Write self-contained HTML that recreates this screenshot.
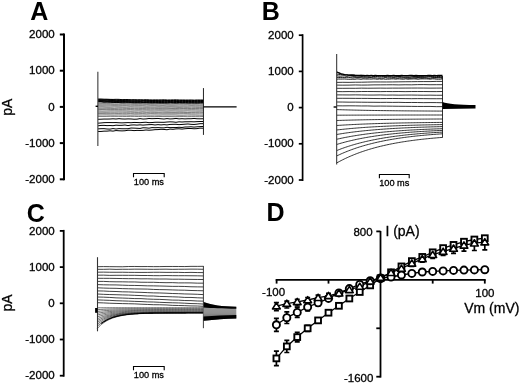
<!DOCTYPE html>
<html><head><meta charset="utf-8"><style>
html,body{margin:0;padding:0;background:#fff;}
body{width:520px;height:383px;overflow:hidden;font-family:"Liberation Sans",sans-serif;}
svg{display:block;will-change:transform;}
</style></head><body>
<svg width="520" height="383" viewBox="0 0 520 383">
<text x="30.2" y="19.8" font-size="25" font-weight="bold" font-family="Liberation Sans, sans-serif">A</text>
<line x1="64" y1="33.5" x2="64" y2="180.3" stroke="#000" stroke-width="2"/>
<line x1="59.8" y1="34.5" x2="64" y2="34.5" stroke="#000" stroke-width="2"/>
<text x="54.7" y="38.1" font-size="11.5" text-anchor="end" font-family="Liberation Sans, sans-serif" stroke="#000" stroke-width="0.3">2000</text>
<line x1="59.8" y1="70.7" x2="64" y2="70.7" stroke="#000" stroke-width="2"/>
<text x="54.7" y="74.3" font-size="11.5" text-anchor="end" font-family="Liberation Sans, sans-serif" stroke="#000" stroke-width="0.3">1000</text>
<line x1="59.8" y1="106.9" x2="64" y2="106.9" stroke="#000" stroke-width="2"/>
<text x="54.7" y="110.5" font-size="11.5" text-anchor="end" font-family="Liberation Sans, sans-serif" stroke="#000" stroke-width="0.3">0</text>
<line x1="59.8" y1="143.1" x2="64" y2="143.1" stroke="#000" stroke-width="2"/>
<text x="54.7" y="146.7" font-size="11.5" text-anchor="end" font-family="Liberation Sans, sans-serif" stroke="#000" stroke-width="0.3">-1000</text>
<line x1="59.8" y1="179.3" x2="64" y2="179.3" stroke="#000" stroke-width="2"/>
<text x="54.7" y="182.9" font-size="11.5" text-anchor="end" font-family="Liberation Sans, sans-serif" stroke="#000" stroke-width="0.3">-2000</text>
<text x="0" y="0" font-size="14" text-anchor="middle" transform="translate(12.2,107.3) rotate(-90)" font-family="Liberation Sans, sans-serif" stroke="#000" stroke-width="0.3">pA</text>
<path d="M98,99 L101.01,99.02 L104.03,99.19 L107.04,99.22 L110.06,99.36 L113.07,99.43 L116.09,99.32 L119.1,99.36 L122.11,99.65 L125.13,99.52 L128.14,99.56 L131.16,99.82 L134.17,99.7 L137.19,99.84 L140.2,99.76 L143.21,99.83 L146.23,99.71 L149.24,99.87 L152.26,99.96 L155.27,99.87 L158.29,99.96 L161.3,99.95 L164.31,99.78 L167.33,100 L170.34,99.96 L173.36,99.88 L176.37,99.81 L179.39,100.07 L182.4,99.96 L185.41,100.04 L188.43,100.09 L191.44,100.05 L194.46,100.11 L197.47,99.96 L200.49,100.09 L203.5,99.98" fill="none" stroke="#000" stroke-width="1.0" stroke-opacity="1" stroke-linejoin="round"/>
<path d="M98,99.5 L101.01,99.72 L104.03,99.79 L107.04,99.64 L110.06,99.72 L113.07,99.81 L116.09,100.09 L119.1,99.99 L122.11,100.09 L125.13,100.04 L128.14,100.14 L131.16,100.14 L134.17,100.16 L137.19,100.26 L140.2,100.29 L143.21,100.41 L146.23,100.37 L149.24,100.46 L152.26,100.46 L155.27,100.51 L158.29,100.43 L161.3,100.3 L164.31,100.52 L167.33,100.56 L170.34,100.55 L173.36,100.46 L176.37,100.51 L179.39,100.37 L182.4,100.56 L185.41,100.49 L188.43,100.41 L191.44,100.35 L194.46,100.59 L197.47,100.64 L200.49,100.37 L203.5,100.59" fill="none" stroke="#000" stroke-width="1.0" stroke-opacity="1" stroke-linejoin="round"/>
<path d="M98,100 L101.01,100.07 L104.03,100.08 L107.04,100.2 L110.06,100.41 L113.07,100.5 L116.09,100.31 L119.1,100.54 L122.11,100.42 L125.13,100.66 L128.14,100.59 L131.16,100.79 L134.17,100.85 L137.19,100.74 L140.2,100.91 L143.21,100.73 L146.23,100.68 L149.24,100.86 L152.26,100.71 L155.27,100.78 L158.29,100.86 L161.3,100.93 L164.31,100.81 L167.33,100.78 L170.34,101.04 L173.36,100.89 L176.37,101.09 L179.39,101.08 L182.4,100.93 L185.41,100.96 L188.43,100.98 L191.44,101.03 L194.46,101.02 L197.47,101.01 L200.49,101.03 L203.5,101.13" fill="none" stroke="#000" stroke-width="1.0" stroke-opacity="1" stroke-linejoin="round"/>
<path d="M98,100.5 L101.01,100.61 L104.03,100.68 L107.04,100.85 L110.06,100.78 L113.07,100.87 L116.09,101.14 L119.1,101.06 L122.11,101.12 L125.13,101.01 L128.14,101.18 L131.16,101.26 L134.17,101.13 L137.19,101.34 L140.2,101.38 L143.21,101.24 L146.23,101.43 L149.24,101.4 L152.26,101.49 L155.27,101.41 L158.29,101.53 L161.3,101.56 L164.31,101.36 L167.33,101.38 L170.34,101.58 L173.36,101.67 L176.37,101.47 L179.39,101.54 L182.4,101.59 L185.41,101.51 L188.43,101.53 L191.44,101.52 L194.46,101.55 L197.47,101.62 L200.49,101.54 L203.5,101.56" fill="none" stroke="#000" stroke-width="1.0" stroke-opacity="1" stroke-linejoin="round"/>
<path d="M98,101 L101.01,101.19 L104.03,101.06 L107.04,101.3 L110.06,101.43 L113.07,101.38 L116.09,101.41 L119.1,101.65 L122.11,101.53 L125.13,101.56 L128.14,101.68 L131.16,101.8 L134.17,101.66 L137.19,101.76 L140.2,101.79 L143.21,101.97 L146.23,101.87 L149.24,102.02 L152.26,101.84 L155.27,101.9 L158.29,102.02 L161.3,102.1 L164.31,101.99 L167.33,101.93 L170.34,101.91 L173.36,102.04 L176.37,101.95 L179.39,102.15 L182.4,102.16 L185.41,101.97 L188.43,102.01 L191.44,102.17 L194.46,102.13 L197.47,102.18 L200.49,102.05 L203.5,101.99" fill="none" stroke="#000" stroke-width="1.0" stroke-opacity="1" stroke-linejoin="round"/>
<path d="M98,101.5 L101.01,101.54 L104.03,101.79 L107.04,101.71 L110.06,101.82 L113.07,101.91 L116.09,101.97 L119.1,102.03 L122.11,102.23 L125.13,102.05 L128.14,102.05 L131.16,102.37 L134.17,102.39 L137.19,102.46 L140.2,102.32 L143.21,102.5 L146.23,102.52 L149.24,102.33 L152.26,102.51 L155.27,102.55 L158.29,102.52 L161.3,102.49 L164.31,102.44 L167.33,102.47 L170.34,102.44 L173.36,102.41 L176.37,102.57 L179.39,102.49 L182.4,102.65 L185.41,102.43 L188.43,102.7 L191.44,102.64 L194.46,102.71 L197.47,102.71 L200.49,102.72 L203.5,102.62" fill="none" stroke="#000" stroke-width="1.0" stroke-opacity="1" stroke-linejoin="round"/>
<path d="M98,102 L101.01,101.96 L104.03,102.27 L107.04,102.19 L110.06,102.3 L113.07,102.48 L116.09,102.5 L119.1,102.53 L122.11,102.74 L125.13,102.69 L128.14,102.65 L131.16,102.67 L134.17,102.89 L137.19,102.8 L140.2,102.92 L143.21,102.82 L146.23,102.8 L149.24,102.93 L152.26,103.03 L155.27,102.86 L158.29,103.06 L161.3,103.11 L164.31,103.09 L167.33,103.11 L170.34,102.88 L173.36,103.07 L176.37,103.15 L179.39,102.92 L182.4,102.99 L185.41,103 L188.43,103.08 L191.44,103.06 L194.46,103.08 L197.47,103.17 L200.49,102.95 L203.5,102.97" fill="none" stroke="#000" stroke-width="1.0" stroke-opacity="1" stroke-linejoin="round"/>
<path d="M98,103.7 L102.06,103.62 L106.12,103.63 L110.17,103.62 L114.23,103.84 L118.29,103.82 L122.35,103.65 L126.4,103.75 L130.46,103.72 L134.52,103.72 L138.58,103.74 L142.63,103.82 L146.69,103.81 L150.75,103.77 L154.81,103.73 L158.87,103.77 L162.92,103.73 L166.98,103.84 L171.04,103.89 L175.1,103.82 L179.15,103.75 L183.21,103.78 L187.27,103.84 L191.33,103.9 L195.38,103.95 L199.44,103.86 L203.5,103.97" fill="none" stroke="#222" stroke-width="0.6" stroke-opacity="1" stroke-linejoin="round"/>
<path d="M98,104.8 L102.06,104.84 L106.12,104.8 L110.17,104.79 L114.23,104.83 L118.29,104.89 L122.35,104.83 L126.4,104.9 L130.46,104.85 L134.52,104.81 L138.58,104.89 L142.63,104.93 L146.69,104.79 L150.75,104.88 L154.81,104.89 L158.87,105.01 L162.92,105.03 L166.98,104.9 L171.04,105.03 L175.1,105.02 L179.15,104.9 L183.21,104.95 L187.27,104.88 L191.33,105.05 L195.38,105.02 L199.44,105.09 L203.5,105.07" fill="none" stroke="#222" stroke-width="0.6" stroke-opacity="1" stroke-linejoin="round"/>
<path d="M98,105.9 L102.06,105.95 L106.12,105.97 L110.17,105.94 L114.23,105.84 L118.29,105.96 L122.35,105.83 L126.4,105.87 L130.46,106.03 L134.52,105.86 L138.58,105.88 L142.63,105.89 L146.69,106.08 L150.75,105.92 L154.81,105.89 L158.87,106.1 L162.92,105.93 L166.98,106.11 L171.04,106.08 L175.1,106.13 L179.15,106.16 L183.21,106.08 L187.27,106.14 L191.33,105.97 L195.38,106.15 L199.44,106.1 L203.5,106.15" fill="none" stroke="#222" stroke-width="0.6" stroke-opacity="1" stroke-linejoin="round"/>
<path d="M98,107.1 L102.06,107.01 L106.12,107.18 L110.17,107.23 L114.23,107.03 L118.29,107.1 L122.35,107.16 L126.4,107.23 L130.46,107.1 L134.52,107.09 L138.58,107.12 L142.63,107.21 L146.69,107.25 L150.75,107.17 L154.81,107.18 L158.87,107.19 L162.92,107.19 L166.98,107.21 L171.04,107.14 L175.1,107.25 L179.15,107.37 L183.21,107.24 L187.27,107.33 L191.33,107.2 L195.38,107.33 L199.44,107.35 L203.5,107.34" fill="none" stroke="#222" stroke-width="0.6" stroke-opacity="1" stroke-linejoin="round"/>
<path d="M98,108.3 L102.06,108.31 L106.12,108.31 L110.17,108.36 L114.23,108.43 L118.29,108.25 L122.35,108.25 L126.4,108.41 L130.46,108.46 L134.52,108.37 L138.58,108.36 L142.63,108.44 L146.69,108.32 L150.75,108.34 L154.81,108.34 L158.87,108.44 L162.92,108.38 L166.98,108.37 L171.04,108.48 L175.1,108.55 L179.15,108.4 L183.21,108.51 L187.27,108.45 L191.33,108.56 L195.38,108.5 L199.44,108.44 L203.5,108.43" fill="none" stroke="#222" stroke-width="0.6" stroke-opacity="1" stroke-linejoin="round"/>
<path d="M98,109.6 L102.06,109.49 L106.12,109.61 L110.17,109.59 L114.23,109.55 L118.29,109.6 L122.35,109.6 L126.4,109.72 L130.46,109.58 L134.52,109.79 L138.58,109.67 L142.63,109.71 L146.69,109.68 L150.75,109.78 L154.81,109.78 L158.87,109.73 L162.92,109.72 L166.98,109.78 L171.04,109.82 L175.1,109.72 L179.15,109.81 L183.21,109.87 L187.27,109.76 L191.33,109.71 L195.38,109.72 L199.44,109.84 L203.5,109.84" fill="none" stroke="#222" stroke-width="0.6" stroke-opacity="1" stroke-linejoin="round"/>
<path d="M98,110.9 L102.06,111.02 L106.12,111 L110.17,110.86 L114.23,110.86 L118.29,110.88 L122.35,110.87 L126.4,111 L130.46,111.05 L134.52,111.07 L138.58,110.92 L142.63,111.07 L146.69,110.95 L150.75,110.98 L154.81,111.06 L158.87,110.92 L162.92,110.93 L166.98,111.11 L171.04,110.99 L175.1,111.01 L179.15,111.07 L183.21,111.1 L187.27,110.95 L191.33,111.04 L195.38,111.07 L199.44,111.09 L203.5,111.03" fill="none" stroke="#222" stroke-width="0.6" stroke-opacity="1" stroke-linejoin="round"/>
<path d="M98,112.2 L102.06,112.23 L106.12,112.32 L110.17,112.2 L114.23,112.24 L118.29,112.15 L122.35,112.19 L126.4,112.29 L130.46,112.17 L134.52,112.36 L138.58,112.38 L142.63,112.19 L146.69,112.4 L150.75,112.27 L154.81,112.37 L158.87,112.38 L162.92,112.27 L166.98,112.37 L171.04,112.38 L175.1,112.42 L179.15,112.3 L183.21,112.42 L187.27,112.48 L191.33,112.42 L195.38,112.39 L199.44,112.3 L203.5,112.4" fill="none" stroke="#222" stroke-width="0.6" stroke-opacity="1" stroke-linejoin="round"/>
<path d="M98,113.6 L102.06,113.57 L106.12,113.67 L110.17,113.67 L114.23,113.65 L118.29,113.56 L122.35,113.68 L126.4,113.69 L130.46,113.58 L134.52,113.76 L138.58,113.71 L142.63,113.59 L146.69,113.8 L150.75,113.61 L154.81,113.67 L158.87,113.77 L162.92,113.75 L166.98,113.74 L171.04,113.77 L175.1,113.74 L179.15,113.71 L183.21,113.68 L187.27,113.67 L191.33,113.83 L195.38,113.85 L199.44,113.8 L203.5,113.86" fill="none" stroke="#222" stroke-width="0.6" stroke-opacity="1" stroke-linejoin="round"/>
<path d="M98,115 L102.06,114.97 L106.12,114.96 L110.17,115 L114.23,115.12 L118.29,114.93 L122.35,115.05 L126.4,114.99 L130.46,115.13 L134.52,115.03 L138.58,115.04 L142.63,115.06 L146.69,115.1 L150.75,115.17 L154.81,115.07 L158.87,115.2 L162.92,115.03 L166.98,115.08 L171.04,115.04 L175.1,115.05 L179.15,115.22 L183.21,115.22 L187.27,115.09 L191.33,115.1 L195.38,115.16 L199.44,115.25 L203.5,115.28" fill="none" stroke="#222" stroke-width="0.6" stroke-opacity="1" stroke-linejoin="round"/>
<path d="M98,116.4 L102.06,116.47 L106.12,116.44 L110.17,116.34 L114.23,116.41 L118.29,116.36 L122.35,116.45 L126.4,116.47 L130.46,116.39 L134.52,116.41 L138.58,116.54 L142.63,116.37 L146.69,116.57 L150.75,116.59 L154.81,116.62 L158.87,116.49 L162.92,116.54 L166.98,116.55 L171.04,116.57 L175.1,116.66 L179.15,116.6 L183.21,116.51 L187.27,116.66 L191.33,116.57 L195.38,116.61 L199.44,116.65 L203.5,116.48" fill="none" stroke="#222" stroke-width="0.6" stroke-opacity="1" stroke-linejoin="round"/>
<path d="M98,119.29 L101,119.2 L104,119.06 L107,119.07 L110,119 L113,118.8 L116,119.02 L119,118.66 L122,118.96 L125,119.05 L128,118.89 L131,118.96 L134,119.22 L137,119.15 L140,118.6 L143,119.05 L146,118.91 L149,118.49 L152,118.69 L155,118.59 L158,118.46 L161,118.77 L164,119.02 L167,118.58 L170,118.95 L173,118.81 L176,118.4 L179,118.89 L182,118.69 L185,118.9 L188,118.74 L191,118.74 L194,118.44 L197,118.75 L200,118.82 L203,118.75 L203.5,118.46" fill="none" stroke="#000" stroke-width="1.0" stroke-opacity="1" stroke-linejoin="round"/>
<path d="M98,123.18 L101,122.96 L104,122.66 L107,122.58 L110,122.57 L113,122.62 L116,122.56 L119,122.76 L122,122.87 L125,122.72 L128,122.6 L131,122.73 L134,122.45 L137,122.53 L140,122.7 L143,122.42 L146,122.23 L149,122.7 L152,122.54 L155,122.26 L158,122.22 L161,122.3 L164,122.31 L167,122.02 L170,121.83 L173,121.94 L176,122.31 L179,121.82 L182,122.01 L185,121.79 L188,121.77 L191,121.71 L194,121.84 L197,121.64 L200,121.5 L203,121.53 L203.5,121.6" fill="none" stroke="#000" stroke-width="1.0" stroke-opacity="1" stroke-linejoin="round"/>
<path d="M98,125.79 L101,125.44 L104,125.36 L107,125.61 L110,125.53 L113,125.69 L116,125.18 L119,125.37 L122,125.32 L125,125.01 L128,125.61 L131,125.04 L134,124.9 L137,125.11 L140,124.85 L143,125.11 L146,124.87 L149,124.66 L152,124.56 L155,124.98 L158,124.61 L161,124.92 L164,124.64 L167,124.92 L170,124.43 L173,124.34 L176,124.3 L179,124.63 L182,124.45 L185,124.2 L188,123.97 L191,124.33 L194,124.48 L197,124.17 L200,123.7 L203,123.67 L203.5,123.75" fill="none" stroke="#000" stroke-width="1.0" stroke-opacity="1" stroke-linejoin="round"/>
<path d="M98,128.87 L101,128.71 L104,128.65 L107,129 L110,129.11 L113,128.55 L116,129.02 L119,128.6 L122,128.76 L125,128.78 L128,128.72 L131,128.02 L134,128.14 L137,128.28 L140,128.45 L143,127.78 L146,127.86 L149,128.18 L152,127.6 L155,127.72 L158,127.61 L161,127.79 L164,127.89 L167,127.3 L170,127.62 L173,127.55 L176,127.55 L179,127.29 L182,127.48 L185,127.02 L188,126.98 L191,126.78 L194,127.1 L197,126.82 L200,126.61 L203,126.47 L203.5,126.83" fill="none" stroke="#000" stroke-width="1.0" stroke-opacity="1" stroke-linejoin="round"/>
<path d="M98,131.47 L101,131.46 L104,131.15 L107,131.13 L110,130.81 L113,131.12 L116,130.55 L119,130.78 L122,130.9 L125,130.75 L128,130.26 L131,130.27 L134,130.61 L137,130.39 L140,130.46 L143,130.37 L146,129.99 L149,130.22 L152,130.02 L155,129.66 L158,129.59 L161,129.3 L164,129.44 L167,129.75 L170,129.07 L173,129.31 L176,128.9 L179,128.79 L182,129.1 L185,128.73 L188,128.51 L191,128.5 L194,128.76 L197,128.63 L200,128.14 L203,128.21 L203.5,128.68" fill="none" stroke="#000" stroke-width="1.0" stroke-opacity="1" stroke-linejoin="round"/>
<line x1="97.85" y1="71.8" x2="97.85" y2="146" stroke="#444" stroke-width="1.15"/>
<line x1="203.45" y1="88.1" x2="203.45" y2="134.9" stroke="#222" stroke-width="1"/>
<line x1="203.5" y1="106.85" x2="236.6" y2="106.85" stroke="#000" stroke-width="1.35"/>
<rect x="95.6" y="105.6" width="2.4" height="1.4" fill="#000"/>
<path d="M133.5,177.3 V173.5 H164.2 V177.3" fill="none" stroke="#000" stroke-width="1.1"/>
<text x="148.85" y="184.7" font-size="9.2" text-anchor="middle" font-family="Liberation Sans, sans-serif" stroke="#000" stroke-width="0.3">100 ms</text>
<text x="261.8" y="19.7" font-size="25" font-weight="bold" font-family="Liberation Sans, sans-serif">B</text>
<line x1="302.6" y1="34.2" x2="302.6" y2="181" stroke="#000" stroke-width="1.7"/>
<line x1="298.8" y1="35.2" x2="302.6" y2="35.2" stroke="#000" stroke-width="1.7"/>
<text x="293.7" y="38.8" font-size="11.5" text-anchor="end" font-family="Liberation Sans, sans-serif" stroke="#000" stroke-width="0.3">2000</text>
<line x1="298.8" y1="71.4" x2="302.6" y2="71.4" stroke="#000" stroke-width="1.7"/>
<text x="293.7" y="75" font-size="11.5" text-anchor="end" font-family="Liberation Sans, sans-serif" stroke="#000" stroke-width="0.3">1000</text>
<line x1="298.8" y1="107.6" x2="302.6" y2="107.6" stroke="#000" stroke-width="1.7"/>
<text x="293.7" y="111.2" font-size="11.5" text-anchor="end" font-family="Liberation Sans, sans-serif" stroke="#000" stroke-width="0.3">0</text>
<line x1="298.8" y1="143.8" x2="302.6" y2="143.8" stroke="#000" stroke-width="1.7"/>
<text x="293.7" y="147.4" font-size="11.5" text-anchor="end" font-family="Liberation Sans, sans-serif" stroke="#000" stroke-width="0.3">-1000</text>
<line x1="298.8" y1="180" x2="302.6" y2="180" stroke="#000" stroke-width="1.7"/>
<text x="293.7" y="183.6" font-size="11.5" text-anchor="end" font-family="Liberation Sans, sans-serif" stroke="#000" stroke-width="0.3">-2000</text>
<path d="M336.6,71.8 L338.64,72.77 L340.67,73.61 L342.71,74.13 L344.75,74.61 L346.78,74.86 L348.82,75.11 L350.86,75.21 L352.89,75.23 L354.93,75.31 L356.97,75.34 L359,75.57 L361.04,75.43 L363.08,75.43 L365.11,75.67 L367.15,75.5 L369.18,75.67 L371.22,75.48 L373.26,75.58 L375.29,75.52 L377.33,75.67 L379.37,75.62 L381.4,75.63 L383.44,75.66 L385.48,75.69 L387.51,75.56 L389.55,75.62 L391.59,75.59 L393.62,75.51 L395.66,75.68 L397.7,75.62 L399.73,75.68 L401.77,75.53 L403.81,75.61 L405.84,75.59 L407.88,75.65 L409.92,75.5 L411.95,75.56 L413.99,75.6 L416.02,75.5 L418.06,75.61 L420.1,75.66 L422.13,75.58 L424.17,75.64 L426.21,75.63 L428.24,75.53 L430.28,75.56 L432.32,75.72 L434.35,75.56 L436.39,75.58 L438.43,75.5 L440.46,75.53 L442.5,75.52" fill="none" stroke="#000" stroke-width="1.4" stroke-opacity="1" stroke-linejoin="round"/>
<path d="M336.6,74 L338.64,74.46 L340.67,74.46 L342.71,74.7 L344.75,74.9 L346.78,74.76 L348.82,75.1 L350.86,74.92 L352.89,74.94 L354.93,75.4 L356.97,75.46 L359,75.57 L361.04,75.32 L363.08,75.6 L365.11,75.41 L367.15,75.89 L369.18,75.89 L371.22,75.51 L373.26,76.01 L375.29,75.53 L377.33,75.52 L379.37,76 L381.4,75.74 L383.44,75.93 L385.48,76.05 L387.51,75.67 L389.55,76.19 L391.59,75.89 L393.62,76.03 L395.66,75.99 L397.7,76.29 L399.73,76.32 L401.77,76.02 L403.81,75.91 L405.84,76.07 L407.88,76.16 L409.92,75.95 L411.95,76.01 L413.99,76.45 L416.02,76.42 L418.06,76.63 L420.1,76.64 L422.13,76.58 L424.17,76.24 L426.21,76.1 L428.24,76.22 L430.28,76.33 L432.32,76.38 L434.35,76.4 L436.39,76.28 L438.43,76.63 L440.46,76.24 L442.5,76.37" fill="none" stroke="#000" stroke-width="0.9" stroke-opacity="1" stroke-linejoin="round"/>
<path d="M336.6,75.7 L338.64,76.07 L340.67,76.1 L342.71,75.83 L344.75,75.87 L346.78,76.34 L348.82,75.85 L350.86,76 L352.89,76.35 L354.93,76.41 L356.97,76.2 L359,76.17 L361.04,76.33 L363.08,76.77 L365.11,76.6 L367.15,77 L369.18,76.9 L371.22,77.07 L373.26,76.44 L375.29,76.57 L377.33,76.48 L379.37,76.8 L381.4,76.76 L383.44,76.59 L385.48,76.95 L387.51,76.66 L389.55,76.83 L391.59,76.8 L393.62,77.21 L395.66,76.96 L397.7,76.86 L399.73,76.72 L401.77,77.01 L403.81,77.16 L405.84,77.2 L407.88,77.38 L409.92,77.32 L411.95,76.93 L413.99,76.86 L416.02,77.31 L418.06,77.34 L420.1,77.15 L422.13,77.38 L424.17,77.19 L426.21,77.01 L428.24,76.94 L430.28,76.84 L432.32,77.28 L434.35,77.46 L436.39,77.47 L438.43,77.17 L440.46,77.31 L442.5,77.5" fill="none" stroke="#000" stroke-width="0.9" stroke-opacity="1" stroke-linejoin="round"/>
<path d="M336.6,77.3 L338.64,77.53 L340.67,77.45 L342.71,77.38 L344.75,77.48 L346.78,77.3 L348.82,77.34 L350.86,77.67 L352.89,77.89 L354.93,77.65 L356.97,77.59 L359,77.58 L361.04,77.66 L363.08,77.89 L365.11,77.7 L367.15,78.02 L369.18,77.56 L371.22,77.67 L373.26,77.81 L375.29,77.76 L377.33,78.04 L379.37,78.03 L381.4,78.11 L383.44,77.93 L385.48,77.59 L387.51,77.92 L389.55,77.92 L391.59,77.89 L393.62,77.77 L395.66,78.04 L397.7,78.17 L399.73,77.69 L401.77,78.03 L403.81,77.86 L405.84,77.95 L407.88,78.19 L409.92,78.23 L411.95,78.04 L413.99,77.78 L416.02,78.22 L418.06,77.78 L420.1,77.9 L422.13,78.17 L424.17,77.87 L426.21,77.85 L428.24,78.26 L430.28,78.25 L432.32,77.88 L434.35,77.93 L436.39,77.86 L438.43,77.78 L440.46,77.85 L442.5,78.29" fill="none" stroke="#000" stroke-width="0.9" stroke-opacity="1" stroke-linejoin="round"/>
<path d="M336.6,79.2 L338.64,79.02 L340.67,79.07 L342.71,79.04 L344.75,78.98 L346.78,79.15 L348.82,79.23 L350.86,79.26 L352.89,79.17 L354.93,79.24 L356.97,78.9 L359,79.01 L361.04,79.27 L363.08,78.91 L365.11,78.98 L367.15,79.07 L369.18,78.97 L371.22,79.08 L373.26,78.88 L375.29,78.95 L377.33,79.23 L379.37,78.9 L381.4,79.21 L383.44,78.91 L385.48,79.23 L387.51,79.1 L389.55,79.09 L391.59,78.89 L393.62,78.85 L395.66,79.13 L397.7,78.89 L399.73,78.9 L401.77,79.15 L403.81,79.17 L405.84,78.84 L407.88,79.2 L409.92,79.03 L411.95,78.96 L413.99,78.85 L416.02,78.97 L418.06,79.2 L420.1,78.92 L422.13,78.86 L424.17,78.86 L426.21,78.86 L428.24,78.95 L430.28,79.17 L432.32,78.83 L434.35,78.88 L436.39,79.18 L438.43,79.2 L440.46,79.19 L442.5,78.9" fill="none" stroke="#000" stroke-width="0.9" stroke-opacity="1" stroke-linejoin="round"/>
<path d="M336.6,82.4 L342.83,82.31 L349.06,82.37 L355.29,82.22 L361.52,82.21 L367.75,82.07 L373.98,81.95 L380.21,81.96 L386.44,81.98 L392.66,81.93 L398.89,81.83 L405.12,81.75 L411.35,81.7 L417.58,81.62 L423.81,81.58 L430.04,81.58 L436.27,81.4 L442.5,81.42" fill="none" stroke="#000" stroke-width="0.8" stroke-opacity="1" stroke-linejoin="round"/>
<path d="M336.6,85.1 L342.83,85.16 L349.06,85.11 L355.29,84.95 L361.52,85.08 L367.75,85.02 L373.98,84.86 L380.21,84.85 L386.44,84.81 L392.66,84.75 L398.89,84.9 L405.12,84.76 L411.35,84.82 L417.58,84.64 L423.81,84.59 L430.04,84.73 L436.27,84.69 L442.5,84.7" fill="none" stroke="#000" stroke-width="0.8" stroke-opacity="1" stroke-linejoin="round"/>
<path d="M336.6,88.3 L342.83,88.32 L349.06,88.27 L355.29,88.3 L361.52,88.15 L367.75,88.22 L373.98,88.18 L380.21,88.11 L386.44,88.18 L392.66,88.11 L398.89,88.12 L405.12,88.08 L411.35,88.05 L417.58,88.04 L423.81,88.07 L430.04,88.13 L436.27,88.1 L442.5,88.07" fill="none" stroke="#000" stroke-width="0.8" stroke-opacity="1" stroke-linejoin="round"/>
<path d="M336.6,91.6 L342.83,91.66 L349.06,91.55 L355.29,91.68 L361.52,91.53 L367.75,91.5 L373.98,91.56 L380.21,91.61 L386.44,91.52 L392.66,91.58 L398.89,91.5 L405.12,91.63 L411.35,91.52 L417.58,91.52 L423.81,91.52 L430.04,91.59 L436.27,91.6 L442.5,91.51" fill="none" stroke="#000" stroke-width="0.8" stroke-opacity="1" stroke-linejoin="round"/>
<path d="M336.6,94.9 L342.83,94.91 L349.06,94.96 L355.29,94.87 L361.52,94.96 L367.75,95.06 L373.98,95.06 L380.21,94.94 L386.44,95.11 L392.66,95.04 L398.89,95.17 L405.12,95.07 L411.35,95.05 L417.58,95.14 L423.81,95.22 L430.04,95.15 L436.27,95.26 L442.5,95.24" fill="none" stroke="#000" stroke-width="0.8" stroke-opacity="1" stroke-linejoin="round"/>
<path d="M336.6,98.3 L342.83,98.3 L349.06,98.32 L355.29,98.39 L361.52,98.4 L367.75,98.42 L373.98,98.51 L380.21,98.58 L386.44,98.55 L392.66,98.49 L398.89,98.54 L405.12,98.6 L411.35,98.68 L417.58,98.61 L423.81,98.63 L430.04,98.71 L436.27,98.73 L442.5,98.71" fill="none" stroke="#000" stroke-width="0.8" stroke-opacity="1" stroke-linejoin="round"/>
<path d="M336.6,102 L342.83,102.05 L349.06,102.17 L355.29,102.13 L361.52,102.21 L367.75,102.27 L373.98,102.31 L380.21,102.37 L386.44,102.32 L392.66,102.41 L398.89,102.34 L405.12,102.53 L411.35,102.47 L417.58,102.53 L423.81,102.65 L430.04,102.57 L436.27,102.6 L442.5,102.76" fill="none" stroke="#000" stroke-width="0.8" stroke-opacity="1" stroke-linejoin="round"/>
<path d="M336.6,105.8 L342.83,105.87 L349.06,105.81 L355.29,105.85 L361.52,105.96 L367.75,105.94 L373.98,106.15 L380.21,106.07 L386.44,106.13 L392.66,106.2 L398.89,106.27 L405.12,106.3 L411.35,106.39 L417.58,106.44 L423.81,106.45 L430.04,106.43 L436.27,106.65 L442.5,106.64" fill="none" stroke="#000" stroke-width="0.8" stroke-opacity="1" stroke-linejoin="round"/>
<path d="M336.6,109.6 L338.11,109.65 L339.63,109.7 L341.14,109.74 L342.65,109.79 L344.16,109.83 L345.68,109.87 L347.19,109.91 L348.7,109.95 L350.22,109.99 L351.73,110.03 L353.24,110.07 L354.75,110.1 L356.27,110.14 L357.78,110.17 L359.29,110.2 L360.81,110.24 L362.32,110.27 L363.83,110.3 L365.34,110.33 L366.86,110.36 L368.37,110.38 L369.88,110.41 L371.4,110.44 L372.91,110.46 L374.42,110.49 L375.93,110.51 L377.45,110.53 L378.96,110.56 L380.47,110.58 L381.99,110.6 L383.5,110.62 L385.01,110.64 L386.52,110.66 L388.04,110.68 L389.55,110.7 L391.06,110.71 L392.58,110.73 L394.09,110.75 L395.6,110.77 L397.11,110.78 L398.63,110.8 L400.14,110.81 L401.65,110.83 L403.17,110.84 L404.68,110.86 L406.19,110.87 L407.7,110.88 L409.22,110.89 L410.73,110.91 L412.24,110.92 L413.76,110.93 L415.27,110.94 L416.78,110.95 L418.29,110.96 L419.81,110.97 L421.32,110.98 L422.83,110.99 L424.35,111 L425.86,111.01 L427.37,111.02 L428.88,111.03 L430.4,111.04 L431.91,111.05 L433.42,111.06 L434.94,111.06 L436.45,111.07 L437.96,111.08 L439.47,111.09 L440.99,111.09 L442.5,111.1" fill="none" stroke="#000" stroke-width="0.8" stroke-opacity="1" stroke-linejoin="round"/>
<path d="M336.6,115.2 L338.11,115.19 L339.63,115.19 L341.14,115.18 L342.65,115.18 L344.16,115.17 L345.68,115.16 L347.19,115.16 L348.7,115.15 L350.22,115.15 L351.73,115.14 L353.24,115.14 L354.75,115.13 L356.27,115.13 L357.78,115.12 L359.29,115.12 L360.81,115.12 L362.32,115.11 L363.83,115.11 L365.34,115.1 L366.86,115.1 L368.37,115.1 L369.88,115.09 L371.4,115.09 L372.91,115.09 L374.42,115.08 L375.93,115.08 L377.45,115.08 L378.96,115.07 L380.47,115.07 L381.99,115.07 L383.5,115.06 L385.01,115.06 L386.52,115.06 L388.04,115.06 L389.55,115.05 L391.06,115.05 L392.58,115.05 L394.09,115.05 L395.6,115.04 L397.11,115.04 L398.63,115.04 L400.14,115.04 L401.65,115.04 L403.17,115.03 L404.68,115.03 L406.19,115.03 L407.7,115.03 L409.22,115.03 L410.73,115.03 L412.24,115.02 L413.76,115.02 L415.27,115.02 L416.78,115.02 L418.29,115.02 L419.81,115.02 L421.32,115.02 L422.83,115.01 L424.35,115.01 L425.86,115.01 L427.37,115.01 L428.88,115.01 L430.4,115.01 L431.91,115.01 L433.42,115.01 L434.94,115 L436.45,115 L437.96,115 L439.47,115 L440.99,115 L442.5,115" fill="none" stroke="#000" stroke-width="0.8" stroke-opacity="1" stroke-linejoin="round"/>
<path d="M336.6,120.5 L338.11,120.45 L339.63,120.4 L341.14,120.36 L342.65,120.31 L344.16,120.27 L345.68,120.23 L347.19,120.19 L348.7,120.15 L350.22,120.11 L351.73,120.07 L353.24,120.03 L354.75,120 L356.27,119.96 L357.78,119.93 L359.29,119.9 L360.81,119.86 L362.32,119.83 L363.83,119.8 L365.34,119.77 L366.86,119.74 L368.37,119.72 L369.88,119.69 L371.4,119.66 L372.91,119.64 L374.42,119.61 L375.93,119.59 L377.45,119.57 L378.96,119.54 L380.47,119.52 L381.99,119.5 L383.5,119.48 L385.01,119.46 L386.52,119.44 L388.04,119.42 L389.55,119.4 L391.06,119.39 L392.58,119.37 L394.09,119.35 L395.6,119.33 L397.11,119.32 L398.63,119.3 L400.14,119.29 L401.65,119.27 L403.17,119.26 L404.68,119.24 L406.19,119.23 L407.7,119.22 L409.22,119.21 L410.73,119.19 L412.24,119.18 L413.76,119.17 L415.27,119.16 L416.78,119.15 L418.29,119.14 L419.81,119.13 L421.32,119.12 L422.83,119.11 L424.35,119.1 L425.86,119.09 L427.37,119.08 L428.88,119.07 L430.4,119.06 L431.91,119.05 L433.42,119.04 L434.94,119.04 L436.45,119.03 L437.96,119.02 L439.47,119.01 L440.99,119.01 L442.5,119" fill="none" stroke="#000" stroke-width="0.8" stroke-opacity="1" stroke-linejoin="round"/>
<path d="M336.6,125.5 L338.11,125.4 L339.63,125.3 L341.14,125.21 L342.65,125.11 L344.16,125.02 L345.68,124.94 L347.19,124.85 L348.7,124.77 L350.22,124.69 L351.73,124.61 L353.24,124.53 L354.75,124.46 L356.27,124.39 L357.78,124.32 L359.29,124.25 L360.81,124.18 L362.32,124.12 L363.83,124.06 L365.34,124 L366.86,123.94 L368.37,123.88 L369.88,123.83 L371.4,123.77 L372.91,123.72 L374.42,123.67 L375.93,123.62 L377.45,123.57 L378.96,123.53 L380.47,123.48 L381.99,123.44 L383.5,123.39 L385.01,123.35 L386.52,123.31 L388.04,123.27 L389.55,123.23 L391.06,123.2 L392.58,123.16 L394.09,123.13 L395.6,123.09 L397.11,123.06 L398.63,123.03 L400.14,122.99 L401.65,122.96 L403.17,122.93 L404.68,122.91 L406.19,122.88 L407.7,122.85 L409.22,122.82 L410.73,122.8 L412.24,122.77 L413.76,122.75 L415.27,122.73 L416.78,122.7 L418.29,122.68 L419.81,122.66 L421.32,122.64 L422.83,122.62 L424.35,122.6 L425.86,122.58 L427.37,122.56 L428.88,122.54 L430.4,122.52 L431.91,122.51 L433.42,122.49 L434.94,122.47 L436.45,122.46 L437.96,122.44 L439.47,122.43 L440.99,122.41 L442.5,122.4" fill="none" stroke="#000" stroke-width="0.8" stroke-opacity="1" stroke-linejoin="round"/>
<path d="M336.6,130 L338.11,129.82 L339.63,129.65 L341.14,129.49 L342.65,129.33 L344.16,129.17 L345.68,129.02 L347.19,128.87 L348.7,128.72 L350.22,128.58 L351.73,128.45 L353.24,128.32 L354.75,128.19 L356.27,128.06 L357.78,127.94 L359.29,127.82 L360.81,127.71 L362.32,127.6 L363.83,127.49 L365.34,127.38 L366.86,127.28 L368.37,127.18 L369.88,127.09 L371.4,126.99 L372.91,126.9 L374.42,126.81 L375.93,126.73 L377.45,126.64 L378.96,126.56 L380.47,126.48 L381.99,126.41 L383.5,126.33 L385.01,126.26 L386.52,126.19 L388.04,126.12 L389.55,126.05 L391.06,125.99 L392.58,125.92 L394.09,125.86 L395.6,125.8 L397.11,125.75 L398.63,125.69 L400.14,125.64 L401.65,125.58 L403.17,125.53 L404.68,125.48 L406.19,125.43 L407.7,125.39 L409.22,125.34 L410.73,125.29 L412.24,125.25 L413.76,125.21 L415.27,125.17 L416.78,125.13 L418.29,125.09 L419.81,125.05 L421.32,125.02 L422.83,124.98 L424.35,124.95 L425.86,124.91 L427.37,124.88 L428.88,124.85 L430.4,124.82 L431.91,124.79 L433.42,124.76 L434.94,124.73 L436.45,124.7 L437.96,124.68 L439.47,124.65 L440.99,124.62 L442.5,124.6" fill="none" stroke="#000" stroke-width="0.8" stroke-opacity="1" stroke-linejoin="round"/>
<path d="M336.6,134.5 L338.11,134.24 L339.63,133.99 L341.14,133.75 L342.65,133.51 L344.16,133.28 L345.68,133.06 L347.19,132.84 L348.7,132.63 L350.22,132.43 L351.73,132.23 L353.24,132.04 L354.75,131.85 L356.27,131.67 L357.78,131.49 L359.29,131.32 L360.81,131.15 L362.32,130.98 L363.83,130.83 L365.34,130.67 L366.86,130.52 L368.37,130.38 L369.88,130.24 L371.4,130.1 L372.91,129.97 L374.42,129.84 L375.93,129.71 L377.45,129.59 L378.96,129.47 L380.47,129.35 L381.99,129.24 L383.5,129.13 L385.01,129.03 L386.52,128.92 L388.04,128.82 L389.55,128.72 L391.06,128.63 L392.58,128.54 L394.09,128.45 L395.6,128.36 L397.11,128.28 L398.63,128.2 L400.14,128.12 L401.65,128.04 L403.17,127.96 L404.68,127.89 L406.19,127.82 L407.7,127.75 L409.22,127.68 L410.73,127.62 L412.24,127.55 L413.76,127.49 L415.27,127.43 L416.78,127.37 L418.29,127.32 L419.81,127.26 L421.32,127.21 L422.83,127.16 L424.35,127.11 L425.86,127.06 L427.37,127.01 L428.88,126.96 L430.4,126.92 L431.91,126.87 L433.42,126.83 L434.94,126.79 L436.45,126.75 L437.96,126.71 L439.47,126.67 L440.99,126.64 L442.5,126.6" fill="none" stroke="#000" stroke-width="0.8" stroke-opacity="1" stroke-linejoin="round"/>
<path d="M336.6,139.3 L338.11,138.95 L339.63,138.62 L341.14,138.29 L342.65,137.98 L344.16,137.67 L345.68,137.37 L347.19,137.08 L348.7,136.8 L350.22,136.52 L351.73,136.25 L353.24,135.99 L354.75,135.74 L356.27,135.5 L357.78,135.26 L359.29,135.03 L360.81,134.8 L362.32,134.58 L363.83,134.37 L365.34,134.16 L366.86,133.96 L368.37,133.77 L369.88,133.58 L371.4,133.4 L372.91,133.22 L374.42,133.04 L375.93,132.87 L377.45,132.71 L378.96,132.55 L380.47,132.39 L381.99,132.24 L383.5,132.1 L385.01,131.95 L386.52,131.82 L388.04,131.68 L389.55,131.55 L391.06,131.42 L392.58,131.3 L394.09,131.18 L395.6,131.06 L397.11,130.95 L398.63,130.84 L400.14,130.73 L401.65,130.63 L403.17,130.53 L404.68,130.43 L406.19,130.33 L407.7,130.24 L409.22,130.15 L410.73,130.06 L412.24,129.98 L413.76,129.9 L415.27,129.82 L416.78,129.74 L418.29,129.66 L419.81,129.59 L421.32,129.52 L422.83,129.45 L424.35,129.38 L425.86,129.31 L427.37,129.25 L428.88,129.19 L430.4,129.13 L431.91,129.07 L433.42,129.01 L434.94,128.95 L436.45,128.9 L437.96,128.85 L439.47,128.8 L440.99,128.75 L442.5,128.7" fill="none" stroke="#000" stroke-width="0.8" stroke-opacity="1" stroke-linejoin="round"/>
<path d="M336.6,144.5 L338.11,144.04 L339.63,143.59 L341.14,143.16 L342.65,142.74 L344.16,142.33 L345.68,141.93 L347.19,141.54 L348.7,141.17 L350.22,140.8 L351.73,140.45 L353.24,140.1 L354.75,139.77 L356.27,139.44 L357.78,139.12 L359.29,138.82 L360.81,138.52 L362.32,138.23 L363.83,137.94 L365.34,137.67 L366.86,137.4 L368.37,137.14 L369.88,136.89 L371.4,136.65 L372.91,136.41 L374.42,136.18 L375.93,135.95 L377.45,135.73 L378.96,135.52 L380.47,135.31 L381.99,135.11 L383.5,134.92 L385.01,134.73 L386.52,134.54 L388.04,134.37 L389.55,134.19 L391.06,134.02 L392.58,133.86 L394.09,133.7 L395.6,133.54 L397.11,133.39 L398.63,133.25 L400.14,133.1 L401.65,132.97 L403.17,132.83 L404.68,132.7 L406.19,132.57 L407.7,132.45 L409.22,132.33 L410.73,132.21 L412.24,132.1 L413.76,131.99 L415.27,131.88 L416.78,131.78 L418.29,131.68 L419.81,131.58 L421.32,131.49 L422.83,131.39 L424.35,131.3 L425.86,131.21 L427.37,131.13 L428.88,131.05 L430.4,130.97 L431.91,130.89 L433.42,130.81 L434.94,130.74 L436.45,130.67 L437.96,130.6 L439.47,130.53 L440.99,130.46 L442.5,130.4" fill="none" stroke="#000" stroke-width="0.8" stroke-opacity="1" stroke-linejoin="round"/>
<path d="M336.6,150.6 L338.11,150 L339.63,149.41 L341.14,148.84 L342.65,148.29 L344.16,147.75 L345.68,147.23 L347.19,146.72 L348.7,146.23 L350.22,145.75 L351.73,145.28 L353.24,144.83 L354.75,144.39 L356.27,143.96 L357.78,143.55 L359.29,143.14 L360.81,142.75 L362.32,142.37 L363.83,142 L365.34,141.64 L366.86,141.29 L368.37,140.95 L369.88,140.62 L371.4,140.29 L372.91,139.98 L374.42,139.68 L375.93,139.38 L377.45,139.1 L378.96,138.82 L380.47,138.55 L381.99,138.28 L383.5,138.03 L385.01,137.78 L386.52,137.54 L388.04,137.3 L389.55,137.08 L391.06,136.85 L392.58,136.64 L394.09,136.43 L395.6,136.23 L397.11,136.03 L398.63,135.84 L400.14,135.65 L401.65,135.47 L403.17,135.29 L404.68,135.12 L406.19,134.95 L407.7,134.79 L409.22,134.63 L410.73,134.48 L412.24,134.33 L413.76,134.19 L415.27,134.05 L416.78,133.91 L418.29,133.78 L419.81,133.65 L421.32,133.52 L422.83,133.4 L424.35,133.28 L425.86,133.17 L427.37,133.06 L428.88,132.95 L430.4,132.84 L431.91,132.74 L433.42,132.64 L434.94,132.54 L436.45,132.45 L437.96,132.36 L439.47,132.27 L440.99,132.18 L442.5,132.1" fill="none" stroke="#000" stroke-width="0.8" stroke-opacity="1" stroke-linejoin="round"/>
<path d="M336.6,156 L338.11,155.28 L339.63,154.57 L341.14,153.89 L342.65,153.23 L344.16,152.58 L345.68,151.96 L347.19,151.35 L348.7,150.75 L350.22,150.18 L351.73,149.62 L353.24,149.08 L354.75,148.55 L356.27,148.03 L357.78,147.54 L359.29,147.05 L360.81,146.58 L362.32,146.12 L363.83,145.68 L365.34,145.24 L366.86,144.82 L368.37,144.42 L369.88,144.02 L371.4,143.63 L372.91,143.26 L374.42,142.89 L375.93,142.54 L377.45,142.2 L378.96,141.86 L380.47,141.54 L381.99,141.22 L383.5,140.91 L385.01,140.62 L386.52,140.33 L388.04,140.04 L389.55,139.77 L391.06,139.5 L392.58,139.25 L394.09,138.99 L395.6,138.75 L397.11,138.51 L398.63,138.28 L400.14,138.06 L401.65,137.84 L403.17,137.63 L404.68,137.42 L406.19,137.22 L407.7,137.03 L409.22,136.84 L410.73,136.66 L412.24,136.48 L413.76,136.3 L415.27,136.14 L416.78,135.97 L418.29,135.81 L419.81,135.66 L421.32,135.51 L422.83,135.36 L424.35,135.22 L425.86,135.08 L427.37,134.95 L428.88,134.82 L430.4,134.69 L431.91,134.57 L433.42,134.45 L434.94,134.33 L436.45,134.22 L437.96,134.11 L439.47,134 L440.99,133.9 L442.5,133.8" fill="none" stroke="#000" stroke-width="0.8" stroke-opacity="1" stroke-linejoin="round"/>
<path d="M336.6,163 L338.11,162.17 L339.63,161.36 L341.14,160.57 L342.65,159.8 L344.16,159.06 L345.68,158.34 L347.19,157.63 L348.7,156.95 L350.22,156.29 L351.73,155.64 L353.24,155.02 L354.75,154.41 L356.27,153.81 L357.78,153.24 L359.29,152.68 L360.81,152.14 L362.32,151.61 L363.83,151.1 L365.34,150.6 L366.86,150.11 L368.37,149.64 L369.88,149.18 L371.4,148.74 L372.91,148.31 L374.42,147.89 L375.93,147.48 L377.45,147.08 L378.96,146.7 L380.47,146.32 L381.99,145.96 L383.5,145.6 L385.01,145.26 L386.52,144.93 L388.04,144.6 L389.55,144.28 L391.06,143.98 L392.58,143.68 L394.09,143.39 L395.6,143.11 L397.11,142.83 L398.63,142.57 L400.14,142.31 L401.65,142.06 L403.17,141.82 L404.68,141.58 L406.19,141.35 L407.7,141.12 L409.22,140.91 L410.73,140.69 L412.24,140.49 L413.76,140.29 L415.27,140.09 L416.78,139.91 L418.29,139.72 L419.81,139.54 L421.32,139.37 L422.83,139.2 L424.35,139.04 L425.86,138.88 L427.37,138.73 L428.88,138.57 L430.4,138.43 L431.91,138.29 L433.42,138.15 L434.94,138.02 L436.45,137.89 L437.96,137.76 L439.47,137.64 L440.99,137.52 L442.5,137.4" fill="none" stroke="#000" stroke-width="0.8" stroke-opacity="1" stroke-linejoin="round"/>
<line x1="336.65" y1="53.9" x2="336.65" y2="164.4" stroke="#444" stroke-width="1.15"/>
<line x1="442.5" y1="76" x2="442.5" y2="137.6" stroke="#000" stroke-width="0.8"/>
<path d="M442.5,102 C448,104 458,105 475.5,105.1 L475.5,108.4 L442.5,109 Z" fill="#000"/>
<rect x="333.6" y="106.3" width="3" height="1.4" fill="#000"/>
<path d="M379.4,178.3 V174.5 H409.2 V178.3" fill="none" stroke="#000" stroke-width="1.1"/>
<text x="394.3" y="185.5" font-size="9.2" text-anchor="middle" font-family="Liberation Sans, sans-serif" stroke="#000" stroke-width="0.3">100 ms</text>
<text x="26.8" y="221.7" font-size="25" font-weight="bold" font-family="Liberation Sans, sans-serif">C</text>
<line x1="63.7" y1="229.9" x2="63.7" y2="376.7" stroke="#000" stroke-width="1.8"/>
<line x1="59.8" y1="230.9" x2="63.7" y2="230.9" stroke="#000" stroke-width="1.8"/>
<text x="54.7" y="234.5" font-size="11.5" text-anchor="end" font-family="Liberation Sans, sans-serif" stroke="#000" stroke-width="0.3">2000</text>
<line x1="59.8" y1="267.1" x2="63.7" y2="267.1" stroke="#000" stroke-width="1.8"/>
<text x="54.7" y="270.7" font-size="11.5" text-anchor="end" font-family="Liberation Sans, sans-serif" stroke="#000" stroke-width="0.3">1000</text>
<line x1="59.8" y1="303.3" x2="63.7" y2="303.3" stroke="#000" stroke-width="1.8"/>
<text x="54.7" y="306.9" font-size="11.5" text-anchor="end" font-family="Liberation Sans, sans-serif" stroke="#000" stroke-width="0.3">0</text>
<line x1="59.8" y1="339.5" x2="63.7" y2="339.5" stroke="#000" stroke-width="1.8"/>
<text x="54.7" y="343.1" font-size="11.5" text-anchor="end" font-family="Liberation Sans, sans-serif" stroke="#000" stroke-width="0.3">-1000</text>
<line x1="59.8" y1="375.7" x2="63.7" y2="375.7" stroke="#000" stroke-width="1.8"/>
<text x="54.7" y="379.3" font-size="11.5" text-anchor="end" font-family="Liberation Sans, sans-serif" stroke="#000" stroke-width="0.3">-2000</text>
<text x="0" y="0" font-size="14" text-anchor="middle" transform="translate(12.2,303) rotate(-90)" font-family="Liberation Sans, sans-serif" stroke="#000" stroke-width="0.3">pA</text>
<path d="M97.3,266.7 L103.55,266.58 L109.79,266.65 L116.04,266.71 L122.29,266.75 L128.54,266.51 L134.78,266.48 L141.03,266.57 L147.28,266.54 L153.52,266.64 L159.77,266.6 L166.02,266.47 L172.26,266.47 L178.51,266.49 L184.76,266.55 L191.01,266.36 L197.25,266.39 L203.5,266.3" fill="none" stroke="#000" stroke-width="0.75" stroke-opacity="1" stroke-linejoin="round"/>
<path d="M97.3,269.3 L103.55,269.33 L109.79,269.17 L116.04,269.39 L122.29,269.28 L128.54,269.29 L134.78,269.17 L141.03,269.19 L147.28,269.25 L153.52,269.33 L159.77,269.25 L166.02,269.18 L172.26,269.35 L178.51,269.26 L184.76,269.22 L191.01,269.14 L197.25,269.16 L203.5,269.3" fill="none" stroke="#000" stroke-width="0.75" stroke-opacity="1" stroke-linejoin="round"/>
<path d="M97.3,272.2 L103.55,272.13 L109.79,272.24 L116.04,272.28 L122.29,272.24 L128.54,272.35 L134.78,272.4 L141.03,272.41 L147.28,272.4 L153.52,272.29 L159.77,272.27 L166.02,272.38 L172.26,272.37 L178.51,272.36 L184.76,272.54 L191.01,272.4 L197.25,272.56 L203.5,272.61" fill="none" stroke="#000" stroke-width="0.75" stroke-opacity="1" stroke-linejoin="round"/>
<path d="M97.3,275.2 L103.55,275.15 L109.79,275.38 L116.04,275.3 L122.29,275.3 L128.54,275.33 L134.78,275.34 L141.03,275.49 L147.28,275.5 L153.52,275.65 L159.77,275.69 L166.02,275.55 L172.26,275.67 L178.51,275.71 L184.76,275.7 L191.01,275.76 L197.25,275.8 L203.5,275.95" fill="none" stroke="#000" stroke-width="0.75" stroke-opacity="1" stroke-linejoin="round"/>
<path d="M97.3,278.3 L103.55,278.33 L109.79,278.35 L116.04,278.44 L122.29,278.57 L128.54,278.67 L134.78,278.66 L141.03,278.84 L147.28,278.8 L153.52,278.98 L159.77,279.03 L166.02,279 L172.26,279.21 L178.51,279.19 L184.76,279.3 L191.01,279.38 L197.25,279.46 L203.5,279.49" fill="none" stroke="#000" stroke-width="0.75" stroke-opacity="1" stroke-linejoin="round"/>
<path d="M97.3,281.4 L103.55,281.4 L109.79,281.68 L116.04,281.8 L122.29,281.82 L128.54,281.95 L134.78,281.98 L141.03,282.24 L147.28,282.29 L153.52,282.29 L159.77,282.54 L166.02,282.68 L172.26,282.63 L178.51,282.9 L184.76,282.88 L191.01,282.91 L197.25,283.15 L203.5,283.16" fill="none" stroke="#000" stroke-width="0.75" stroke-opacity="1" stroke-linejoin="round"/>
<path d="M97.3,284.6 L103.55,284.8 L109.79,284.9 L116.04,284.93 L122.29,285.17 L128.54,285.39 L134.78,285.44 L141.03,285.6 L147.28,285.82 L153.52,285.86 L159.77,286.01 L166.02,286.17 L172.26,286.37 L178.51,286.36 L184.76,286.48 L191.01,286.78 L197.25,286.87 L203.5,286.95" fill="none" stroke="#000" stroke-width="0.75" stroke-opacity="1" stroke-linejoin="round"/>
<path d="M97.3,287.8 L103.55,288.07 L109.79,288.25 L116.04,288.34 L122.29,288.62 L128.54,288.76 L134.78,288.92 L141.03,288.99 L147.28,289.09 L153.52,289.43 L159.77,289.62 L166.02,289.71 L172.26,289.91 L178.51,290.11 L184.76,290.21 L191.01,290.49 L197.25,290.64 L203.5,290.77" fill="none" stroke="#000" stroke-width="0.75" stroke-opacity="1" stroke-linejoin="round"/>
<path d="M97.3,290.9 L103.55,291.02 L109.79,291.35 L116.04,291.51 L122.29,291.82 L128.54,291.91 L134.78,292.18 L141.03,292.35 L147.28,292.62 L153.52,292.88 L159.77,292.98 L166.02,293.19 L172.26,293.51 L178.51,293.66 L184.76,293.95 L191.01,294.08 L197.25,294.29 L203.5,294.61" fill="none" stroke="#000" stroke-width="0.75" stroke-opacity="1" stroke-linejoin="round"/>
<path d="M97.3,294 L103.55,294.34 L109.79,294.56 L116.04,294.71 L122.29,294.92 L128.54,295.07 L134.78,295.36 L141.03,295.6 L147.28,295.99 L153.52,296.03 L159.77,296.46 L166.02,296.58 L172.26,296.81 L178.51,297 L184.76,297.41 L191.01,297.45 L197.25,297.78 L203.5,298" fill="none" stroke="#000" stroke-width="0.75" stroke-opacity="1" stroke-linejoin="round"/>
<path d="M97.3,297 L103.55,297.17 L109.79,297.43 L116.04,297.86 L122.29,298.06 L128.54,298.29 L134.78,298.58 L141.03,298.63 L147.28,299.03 L153.52,299.28 L159.77,299.4 L166.02,299.71 L172.26,300.08 L178.51,300.17 L184.76,300.52 L191.01,300.63 L197.25,300.99 L203.5,301.14" fill="none" stroke="#000" stroke-width="0.75" stroke-opacity="1" stroke-linejoin="round"/>
<path d="M97.3,299.9 L103.55,300.14 L109.79,300.35 L116.04,300.71 L122.29,300.92 L128.54,301.11 L134.78,301.39 L141.03,301.57 L147.28,301.9 L153.52,302.01 L159.77,302.32 L166.02,302.57 L172.26,302.77 L178.51,302.93 L184.76,303.2 L191.01,303.55 L197.25,303.69 L203.5,304.06" fill="none" stroke="#000" stroke-width="0.75" stroke-opacity="1" stroke-linejoin="round"/>
<path d="M97.3,302.7 L103.55,302.91 L109.79,303.23 L116.04,303.42 L122.29,303.6 L128.54,303.73 L134.78,303.86 L141.03,304.2 L147.28,304.45 L153.52,304.71 L159.77,304.75 L166.02,304.95 L172.26,305.36 L178.51,305.51 L184.76,305.66 L191.01,305.93 L197.25,306 L203.5,306.31" fill="none" stroke="#000" stroke-width="0.75" stroke-opacity="1" stroke-linejoin="round"/>
<path d="M97.3,307.8 L98.82,307.79 L100.33,307.78 L101.85,307.77 L103.37,307.76 L104.89,307.76 L106.4,307.75 L107.92,307.75 L109.44,307.74 L110.95,307.74 L112.47,307.73 L113.99,307.73 L115.51,307.73 L117.02,307.72 L118.54,307.72 L120.06,307.72 L121.57,307.72 L123.09,307.72 L124.61,307.71 L126.13,307.71 L127.64,307.71 L129.16,307.71 L130.68,307.71 L132.19,307.71 L133.71,307.71 L135.23,307.71 L136.75,307.71 L138.26,307.71 L139.78,307.7 L141.3,307.7 L142.81,307.7 L144.33,307.7 L145.85,307.7 L147.37,307.7 L148.88,307.7 L150.4,307.7 L151.92,307.7 L153.43,307.7 L154.95,307.7 L156.47,307.7 L157.99,307.7 L159.5,307.7 L161.02,307.7 L162.54,307.7 L164.05,307.7 L165.57,307.7 L167.09,307.7 L168.61,307.7 L170.12,307.7 L171.64,307.7 L173.16,307.7 L174.67,307.7 L176.19,307.7 L177.71,307.7 L179.23,307.7 L180.74,307.7 L182.26,307.7 L183.78,307.7 L185.29,307.7 L186.81,307.7 L188.33,307.7 L189.85,307.7 L191.36,307.7 L192.88,307.7 L194.4,307.7 L195.91,307.7 L197.43,307.7 L198.95,307.7 L200.47,307.7 L201.98,307.7 L203.5,307.7" fill="none" stroke="#222" stroke-width="0.65" stroke-opacity="1" stroke-linejoin="round"/>
<path d="M97.3,309.7 L98.82,309.59 L100.33,309.49 L101.85,309.4 L103.37,309.31 L104.89,309.24 L106.4,309.17 L107.92,309.12 L109.44,309.06 L110.95,309.02 L112.47,308.97 L113.99,308.93 L115.51,308.9 L117.02,308.87 L118.54,308.84 L120.06,308.82 L121.57,308.79 L123.09,308.77 L124.61,308.76 L126.13,308.74 L127.64,308.73 L129.16,308.71 L130.68,308.7 L132.19,308.69 L133.71,308.68 L135.23,308.67 L136.75,308.67 L138.26,308.66 L139.78,308.65 L141.3,308.65 L142.81,308.64 L144.33,308.64 L145.85,308.63 L147.37,308.63 L148.88,308.63 L150.4,308.62 L151.92,308.62 L153.43,308.62 L154.95,308.62 L156.47,308.62 L157.99,308.61 L159.5,308.61 L161.02,308.61 L162.54,308.61 L164.05,308.61 L165.57,308.61 L167.09,308.61 L168.61,308.61 L170.12,308.61 L171.64,308.61 L173.16,308.6 L174.67,308.6 L176.19,308.6 L177.71,308.6 L179.23,308.6 L180.74,308.6 L182.26,308.6 L183.78,308.6 L185.29,308.6 L186.81,308.6 L188.33,308.6 L189.85,308.6 L191.36,308.6 L192.88,308.6 L194.4,308.6 L195.91,308.6 L197.43,308.6 L198.95,308.6 L200.47,308.6 L201.98,308.6 L203.5,308.6" fill="none" stroke="#222" stroke-width="0.65" stroke-opacity="1" stroke-linejoin="round"/>
<path d="M97.3,311.5 L98.82,311.29 L100.33,311.11 L101.85,310.95 L103.37,310.8 L104.89,310.66 L106.4,310.55 L107.92,310.44 L109.44,310.34 L110.95,310.26 L112.47,310.18 L113.99,310.11 L115.51,310.05 L117.02,309.99 L118.54,309.94 L120.06,309.89 L121.57,309.85 L123.09,309.82 L124.61,309.79 L126.13,309.76 L127.64,309.73 L129.16,309.71 L130.68,309.69 L132.19,309.67 L133.71,309.65 L135.23,309.63 L136.75,309.62 L138.26,309.61 L139.78,309.6 L141.3,309.59 L142.81,309.58 L144.33,309.57 L145.85,309.56 L147.37,309.56 L148.88,309.55 L150.4,309.55 L151.92,309.54 L153.43,309.54 L154.95,309.53 L156.47,309.53 L157.99,309.53 L159.5,309.52 L161.02,309.52 L162.54,309.52 L164.05,309.52 L165.57,309.52 L167.09,309.51 L168.61,309.51 L170.12,309.51 L171.64,309.51 L173.16,309.51 L174.67,309.51 L176.19,309.51 L177.71,309.51 L179.23,309.51 L180.74,309.51 L182.26,309.5 L183.78,309.5 L185.29,309.5 L186.81,309.5 L188.33,309.5 L189.85,309.5 L191.36,309.5 L192.88,309.5 L194.4,309.5 L195.91,309.5 L197.43,309.5 L198.95,309.5 L200.47,309.5 L201.98,309.5 L203.5,309.5" fill="none" stroke="#222" stroke-width="0.65" stroke-opacity="1" stroke-linejoin="round"/>
<path d="M97.3,313.3 L98.82,312.99 L100.33,312.72 L101.85,312.47 L103.37,312.25 L104.89,312.05 L106.4,311.87 L107.92,311.71 L109.44,311.56 L110.95,311.43 L112.47,311.32 L113.99,311.21 L115.51,311.12 L117.02,311.04 L118.54,310.96 L120.06,310.89 L121.57,310.83 L123.09,310.78 L124.61,310.73 L126.13,310.68 L127.64,310.64 L129.16,310.61 L130.68,310.58 L132.19,310.55 L133.71,310.52 L135.23,310.5 L136.75,310.48 L138.26,310.46 L139.78,310.45 L141.3,310.43 L142.81,310.42 L144.33,310.4 L145.85,310.39 L147.37,310.38 L148.88,310.38 L150.4,310.37 L151.92,310.36 L153.43,310.35 L154.95,310.35 L156.47,310.34 L157.99,310.34 L159.5,310.34 L161.02,310.33 L162.54,310.33 L164.05,310.33 L165.57,310.32 L167.09,310.32 L168.61,310.32 L170.12,310.32 L171.64,310.31 L173.16,310.31 L174.67,310.31 L176.19,310.31 L177.71,310.31 L179.23,310.31 L180.74,310.31 L182.26,310.31 L183.78,310.31 L185.29,310.31 L186.81,310.31 L188.33,310.3 L189.85,310.3 L191.36,310.3 L192.88,310.3 L194.4,310.3 L195.91,310.3 L197.43,310.3 L198.95,310.3 L200.47,310.3 L201.98,310.3 L203.5,310.3" fill="none" stroke="#222" stroke-width="0.65" stroke-opacity="1" stroke-linejoin="round"/>
<path d="M97.3,315.1 L98.82,314.68 L100.33,314.3 L101.85,313.96 L103.37,313.66 L104.89,313.39 L106.4,313.14 L107.92,312.92 L109.44,312.73 L110.95,312.55 L112.47,312.39 L113.99,312.25 L115.51,312.12 L117.02,312 L118.54,311.9 L120.06,311.81 L121.57,311.73 L123.09,311.65 L124.61,311.59 L126.13,311.53 L127.64,311.47 L129.16,311.42 L130.68,311.38 L132.19,311.34 L133.71,311.31 L135.23,311.27 L136.75,311.25 L138.26,311.22 L139.78,311.2 L141.3,311.18 L142.81,311.16 L144.33,311.14 L145.85,311.13 L147.37,311.12 L148.88,311.1 L150.4,311.09 L151.92,311.08 L153.43,311.07 L154.95,311.07 L156.47,311.06 L157.99,311.05 L159.5,311.05 L161.02,311.04 L162.54,311.04 L164.05,311.04 L165.57,311.03 L167.09,311.03 L168.61,311.03 L170.12,311.02 L171.64,311.02 L173.16,311.02 L174.67,311.02 L176.19,311.01 L177.71,311.01 L179.23,311.01 L180.74,311.01 L182.26,311.01 L183.78,311.01 L185.29,311.01 L186.81,311.01 L188.33,311.01 L189.85,311.01 L191.36,311.01 L192.88,311 L194.4,311 L195.91,311 L197.43,311 L198.95,311 L200.47,311 L201.98,311 L203.5,311" fill="none" stroke="#222" stroke-width="0.65" stroke-opacity="1" stroke-linejoin="round"/>
<path d="M97.3,316.9 L98.82,316.37 L100.33,315.89 L101.85,315.46 L103.37,315.07 L104.89,314.73 L106.4,314.42 L107.92,314.14 L109.44,313.89 L110.95,313.66 L112.47,313.46 L113.99,313.28 L115.51,313.12 L117.02,312.97 L118.54,312.84 L120.06,312.73 L121.57,312.62 L123.09,312.53 L124.61,312.44 L126.13,312.37 L127.64,312.3 L129.16,312.24 L130.68,312.18 L132.19,312.13 L133.71,312.09 L135.23,312.05 L136.75,312.01 L138.26,311.98 L139.78,311.95 L141.3,311.93 L142.81,311.9 L144.33,311.88 L145.85,311.86 L147.37,311.85 L148.88,311.83 L150.4,311.82 L151.92,311.81 L153.43,311.8 L154.95,311.79 L156.47,311.78 L157.99,311.77 L159.5,311.76 L161.02,311.76 L162.54,311.75 L164.05,311.74 L165.57,311.74 L167.09,311.74 L168.61,311.73 L170.12,311.73 L171.64,311.73 L173.16,311.72 L174.67,311.72 L176.19,311.72 L177.71,311.72 L179.23,311.72 L180.74,311.71 L182.26,311.71 L183.78,311.71 L185.29,311.71 L186.81,311.71 L188.33,311.71 L189.85,311.71 L191.36,311.71 L192.88,311.71 L194.4,311.71 L195.91,311.7 L197.43,311.7 L198.95,311.7 L200.47,311.7 L201.98,311.7 L203.5,311.7" fill="none" stroke="#222" stroke-width="0.65" stroke-opacity="1" stroke-linejoin="round"/>
<path d="M97.3,318.8 L98.82,318.12 L100.33,317.52 L101.85,316.97 L103.37,316.48 L104.89,316.04 L106.4,315.65 L107.92,315.3 L109.44,314.98 L110.95,314.69 L112.47,314.44 L113.99,314.21 L115.51,314 L117.02,313.82 L118.54,313.65 L120.06,313.5 L121.57,313.37 L123.09,313.25 L124.61,313.14 L126.13,313.05 L127.64,312.96 L129.16,312.88 L130.68,312.81 L132.19,312.75 L133.71,312.69 L135.23,312.64 L136.75,312.6 L138.26,312.56 L139.78,312.52 L141.3,312.49 L142.81,312.46 L144.33,312.43 L145.85,312.41 L147.37,312.39 L148.88,312.37 L150.4,312.35 L151.92,312.33 L153.43,312.32 L154.95,312.31 L156.47,312.3 L157.99,312.29 L159.5,312.28 L161.02,312.27 L162.54,312.26 L164.05,312.26 L165.57,312.25 L167.09,312.25 L168.61,312.24 L170.12,312.24 L171.64,312.23 L173.16,312.23 L174.67,312.23 L176.19,312.22 L177.71,312.22 L179.23,312.22 L180.74,312.22 L182.26,312.22 L183.78,312.21 L185.29,312.21 L186.81,312.21 L188.33,312.21 L189.85,312.21 L191.36,312.21 L192.88,312.21 L194.4,312.21 L195.91,312.21 L197.43,312.21 L198.95,312.2 L200.47,312.2 L201.98,312.2 L203.5,312.2" fill="none" stroke="#222" stroke-width="0.65" stroke-opacity="1" stroke-linejoin="round"/>
<path d="M97.3,320.6 L98.82,319.77 L100.33,319.02 L101.85,318.36 L103.37,317.76 L104.89,317.22 L106.4,316.73 L107.92,316.3 L109.44,315.91 L110.95,315.56 L112.47,315.25 L113.99,314.96 L115.51,314.71 L117.02,314.49 L118.54,314.28 L120.06,314.1 L121.57,313.94 L123.09,313.79 L124.61,313.66 L126.13,313.54 L127.64,313.43 L129.16,313.34 L130.68,313.25 L132.19,313.17 L133.71,313.1 L135.23,313.04 L136.75,312.99 L138.26,312.94 L139.78,312.89 L141.3,312.85 L142.81,312.82 L144.33,312.78 L145.85,312.75 L147.37,312.73 L148.88,312.7 L150.4,312.68 L151.92,312.66 L153.43,312.65 L154.95,312.63 L156.47,312.62 L157.99,312.61 L159.5,312.6 L161.02,312.59 L162.54,312.58 L164.05,312.57 L165.57,312.56 L167.09,312.56 L168.61,312.55 L170.12,312.55 L171.64,312.54 L173.16,312.54 L174.67,312.53 L176.19,312.53 L177.71,312.53 L179.23,312.52 L180.74,312.52 L182.26,312.52 L183.78,312.52 L185.29,312.52 L186.81,312.51 L188.33,312.51 L189.85,312.51 L191.36,312.51 L192.88,312.51 L194.4,312.51 L195.91,312.51 L197.43,312.51 L198.95,312.51 L200.47,312.51 L201.98,312.5 L203.5,312.5" fill="none" stroke="#222" stroke-width="0.65" stroke-opacity="1" stroke-linejoin="round"/>
<path d="M97.3,322.4 L98.82,321.41 L100.33,320.51 L101.85,319.71 L103.37,318.99 L104.89,318.35 L106.4,317.77 L107.92,317.25 L109.44,316.78 L110.95,316.36 L112.47,315.99 L113.99,315.65 L115.51,315.35 L117.02,315.08 L118.54,314.83 L120.06,314.61 L121.57,314.42 L123.09,314.24 L124.61,314.08 L126.13,313.94 L127.64,313.82 L129.16,313.7 L130.68,313.6 L132.19,313.51 L133.71,313.42 L135.23,313.35 L136.75,313.28 L138.26,313.22 L139.78,313.17 L141.3,313.12 L142.81,313.08 L144.33,313.04 L145.85,313 L147.37,312.97 L148.88,312.95 L150.4,312.92 L151.92,312.9 L153.43,312.88 L154.95,312.86 L156.47,312.84 L157.99,312.83 L159.5,312.82 L161.02,312.8 L162.54,312.79 L164.05,312.78 L165.57,312.77 L167.09,312.77 L168.61,312.76 L170.12,312.75 L171.64,312.75 L173.16,312.74 L174.67,312.74 L176.19,312.74 L177.71,312.73 L179.23,312.73 L180.74,312.73 L182.26,312.72 L183.78,312.72 L185.29,312.72 L186.81,312.72 L188.33,312.71 L189.85,312.71 L191.36,312.71 L192.88,312.71 L194.4,312.71 L195.91,312.71 L197.43,312.71 L198.95,312.71 L200.47,312.71 L201.98,312.71 L203.5,312.7" fill="none" stroke="#222" stroke-width="0.65" stroke-opacity="1" stroke-linejoin="round"/>
<path d="M97.3,324.3 L98.82,323.12 L100.33,322.06 L101.85,321.11 L103.37,320.26 L104.89,319.5 L106.4,318.81 L107.92,318.19 L109.44,317.64 L110.95,317.14 L112.47,316.7 L113.99,316.3 L115.51,315.94 L117.02,315.62 L118.54,315.33 L120.06,315.07 L121.57,314.84 L123.09,314.63 L124.61,314.44 L126.13,314.27 L127.64,314.12 L129.16,313.99 L130.68,313.86 L132.19,313.76 L133.71,313.66 L135.23,313.57 L136.75,313.49 L138.26,313.42 L139.78,313.36 L141.3,313.3 L142.81,313.25 L144.33,313.2 L145.85,313.16 L147.37,313.12 L148.88,313.09 L150.4,313.06 L151.92,313.03 L153.43,313.01 L154.95,312.99 L156.47,312.97 L157.99,312.95 L159.5,312.94 L161.02,312.92 L162.54,312.91 L164.05,312.9 L165.57,312.89 L167.09,312.88 L168.61,312.87 L170.12,312.86 L171.64,312.86 L173.16,312.85 L174.67,312.85 L176.19,312.84 L177.71,312.84 L179.23,312.83 L180.74,312.83 L182.26,312.83 L183.78,312.82 L185.29,312.82 L186.81,312.82 L188.33,312.82 L189.85,312.82 L191.36,312.81 L192.88,312.81 L194.4,312.81 L195.91,312.81 L197.43,312.81 L198.95,312.81 L200.47,312.81 L201.98,312.81 L203.5,312.81" fill="none" stroke="#222" stroke-width="0.65" stroke-opacity="1" stroke-linejoin="round"/>
<path d="M97.3,326.3 L98.82,324.92 L100.33,323.68 L101.85,322.57 L103.37,321.58 L104.89,320.68 L106.4,319.88 L107.92,319.16 L109.44,318.51 L110.95,317.93 L112.47,317.41 L113.99,316.94 L115.51,316.52 L117.02,316.15 L118.54,315.81 L120.06,315.51 L121.57,315.23 L123.09,314.99 L124.61,314.77 L126.13,314.57 L127.64,314.4 L129.16,314.24 L130.68,314.1 L132.19,313.97 L133.71,313.85 L135.23,313.75 L136.75,313.66 L138.26,313.58 L139.78,313.5 L141.3,313.43 L142.81,313.37 L144.33,313.32 L145.85,313.27 L147.37,313.23 L148.88,313.19 L150.4,313.16 L151.92,313.12 L153.43,313.1 L154.95,313.07 L156.47,313.05 L157.99,313.03 L159.5,313.01 L161.02,312.99 L162.54,312.98 L164.05,312.97 L165.57,312.95 L167.09,312.94 L168.61,312.93 L170.12,312.92 L171.64,312.92 L173.16,312.91 L174.67,312.9 L176.19,312.9 L177.71,312.89 L179.23,312.89 L180.74,312.89 L182.26,312.88 L183.78,312.88 L185.29,312.88 L186.81,312.87 L188.33,312.87 L189.85,312.87 L191.36,312.87 L192.88,312.86 L194.4,312.86 L195.91,312.86 L197.43,312.86 L198.95,312.86 L200.47,312.86 L201.98,312.86 L203.5,312.86" fill="none" stroke="#222" stroke-width="0.65" stroke-opacity="1" stroke-linejoin="round"/>
<path d="M97.3,328.4 L98.82,326.81 L100.33,325.38 L101.85,324.1 L103.37,322.96 L104.89,321.93 L106.4,321 L107.92,320.17 L109.44,319.42 L110.95,318.76 L112.47,318.16 L113.99,317.62 L115.51,317.13 L117.02,316.7 L118.54,316.31 L120.06,315.96 L121.57,315.65 L123.09,315.36 L124.61,315.11 L126.13,314.89 L127.64,314.68 L129.16,314.5 L130.68,314.34 L132.19,314.19 L133.71,314.06 L135.23,313.94 L136.75,313.83 L138.26,313.74 L139.78,313.65 L141.3,313.57 L142.81,313.5 L144.33,313.44 L145.85,313.39 L147.37,313.34 L148.88,313.29 L150.4,313.25 L151.92,313.22 L153.43,313.18 L154.95,313.15 L156.47,313.13 L157.99,313.1 L159.5,313.08 L161.02,313.06 L162.54,313.05 L164.05,313.03 L165.57,313.02 L167.09,313.01 L168.61,313 L170.12,312.99 L171.64,312.98 L173.16,312.97 L174.67,312.96 L176.19,312.96 L177.71,312.95 L179.23,312.95 L180.74,312.94 L182.26,312.94 L183.78,312.93 L185.29,312.93 L186.81,312.93 L188.33,312.92 L189.85,312.92 L191.36,312.92 L192.88,312.92 L194.4,312.92 L195.91,312.91 L197.43,312.91 L198.95,312.91 L200.47,312.91 L201.98,312.91 L203.5,312.91" fill="none" stroke="#222" stroke-width="0.65" stroke-opacity="1" stroke-linejoin="round"/>
<path d="M101.3,323.5 L102.8,322.41 L104.31,321.44 L105.81,320.56 L107.31,319.77 L108.81,319.06 L110.32,318.43 L111.82,317.85 L113.32,317.34 L114.83,316.88 L116.33,316.46 L117.83,316.09 L119.34,315.76 L120.84,315.46 L122.34,315.19 L123.84,314.94 L125.35,314.73 L126.85,314.53 L128.35,314.36 L129.86,314.2 L131.36,314.06 L132.86,313.93 L134.36,313.81 L135.87,313.71 L137.37,313.62 L138.87,313.53 L140.38,313.46 L141.88,313.39 L143.38,313.33 L144.89,313.28 L146.39,313.23 L147.89,313.19 L149.39,313.15 L150.9,313.11 L152.4,313.08 L153.9,313.05 L155.41,313.03 L156.91,313 L158.41,312.98 L159.91,312.96 L161.42,312.95 L162.92,312.93 L164.42,312.92 L165.93,312.91 L167.43,312.9 L168.93,312.89 L170.44,312.88 L171.94,312.87 L173.44,312.86 L174.94,312.86 L176.45,312.85 L177.95,312.85 L179.45,312.84 L180.96,312.84 L182.46,312.83 L183.96,312.83 L185.46,312.83 L186.97,312.82 L188.47,312.82 L189.97,312.82 L191.48,312.82 L192.98,312.82 L194.48,312.81 L195.99,312.81 L197.49,312.81 L198.99,312.81 L200.49,312.81 L202,312.81 L203.5,312.81" fill="none" stroke="#000" stroke-width="1.1" stroke-opacity="1" stroke-linejoin="round"/>
<line x1="97.5" y1="257.2" x2="97.5" y2="331.3" stroke="#333" stroke-width="1.1"/>
<line x1="203.4" y1="266" x2="203.4" y2="328.2" stroke="#333" stroke-width="0.95"/>
<defs><linearGradient id="tg" x1="0" y1="0" x2="0" y2="1"><stop offset="0" stop-color="#a0a0a0"/><stop offset="0.6" stop-color="#909090"/><stop offset="1" stop-color="#555"/></linearGradient></defs>
<path d="M203.5,302 C212,305 222,306.5 236.3,306.7 L236.3,318.4 C225,318.5 215,319.5 203.5,320.8 Z" fill="url(#tg)"/>
<path d="M203.5,302 C212,305 222,306.5 236.3,306.7 L236.3,308.8 C222,308.6 212,308.2 203.5,307.5 Z" fill="#000"/>
<path d="M203.5,316.6 C215,315.8 225,315.2 236.3,315 L236.3,318.4 C225,318.5 215,319.5 203.5,320.8 Z" fill="#000"/>
<rect x="95.1" y="308" width="2.4" height="4.8" fill="#000"/>
<path d="M133.5,370.3 V366.5 H164.2 V370.3" fill="none" stroke="#000" stroke-width="1.1"/>
<text x="148.85" y="377.8" font-size="9.2" text-anchor="middle" font-family="Liberation Sans, sans-serif" stroke="#000" stroke-width="0.3">100 ms</text>
<text x="266.5" y="220.6" font-size="25" font-weight="bold" font-family="Liberation Sans, sans-serif">D</text>
<line x1="380.5" y1="231" x2="380.5" y2="377.6" stroke="#000" stroke-width="1.8"/>
<line x1="376.3" y1="231.4" x2="380.5" y2="231.4" stroke="#000" stroke-width="1.8"/>
<line x1="376.3" y1="328.3" x2="380.5" y2="328.3" stroke="#000" stroke-width="1.8"/>
<line x1="376.3" y1="376.7" x2="380.5" y2="376.7" stroke="#000" stroke-width="1.8"/>
<text x="372.6" y="235.70000000000002" font-size="11.5" text-anchor="end" font-family="Liberation Sans, sans-serif" stroke="#000" stroke-width="0.3">800</text>
<text x="373.4" y="381.59999999999997" font-size="11.5" text-anchor="end" font-family="Liberation Sans, sans-serif" stroke="#000" stroke-width="0.3">-1600</text>
<text x="385.4" y="235.8" font-size="14" font-family="Liberation Sans, sans-serif" stroke="#000" stroke-width="0.3">I (pA)</text>
<line x1="275.7" y1="279.9" x2="485.6" y2="279.9" stroke="#000" stroke-width="1.8"/>
<line x1="276.6" y1="279.5" x2="276.6" y2="283.6" stroke="#000" stroke-width="1.8"/>
<line x1="328.5" y1="279.5" x2="328.5" y2="283.6" stroke="#000" stroke-width="1.8"/>
<line x1="432.7" y1="279.5" x2="432.7" y2="283.6" stroke="#000" stroke-width="1.8"/>
<line x1="484.8" y1="279.5" x2="484.8" y2="283.6" stroke="#000" stroke-width="1.8"/>
<text x="273.6" y="295.6" font-size="11.5" text-anchor="middle" font-family="Liberation Sans, sans-serif" stroke="#000" stroke-width="0.3">-100</text>
<text x="484.9" y="297.3" font-size="11.5" text-anchor="middle" font-family="Liberation Sans, sans-serif" stroke="#000" stroke-width="0.3">100</text>
<text x="464.2" y="312.6" font-size="14" font-family="Liberation Sans, sans-serif" stroke="#000" stroke-width="0.3">Vm (mV)</text>
<path d="M276.4,351.1 V365.7 M273.9,351.1 H278.9 M273.9,365.7 H278.9" stroke="#000" stroke-width="1.7" fill="none"/>
<path d="M286.82,340.3 V352.5 M284.32,340.3 H289.32 M284.32,352.5 H289.32" stroke="#000" stroke-width="1.7" fill="none"/>
<path d="M297.24,332.3 V341.9 M294.74,332.3 H299.74 M294.74,341.9 H299.74" stroke="#000" stroke-width="1.7" fill="none"/>
<path d="M307.66,325.3 V331.3 M305.16,325.3 H310.16 M305.16,331.3 H310.16" stroke="#000" stroke-width="1.7" fill="none"/>
<path d="M318.08,317.9 V322.9 M315.58,317.9 H320.58 M315.58,322.9 H320.58" stroke="#000" stroke-width="1.7" fill="none"/>
<path d="M328.5,310.7 V314.7 M326,310.7 H331 M326,314.7 H331" stroke="#000" stroke-width="1.7" fill="none"/>
<path d="M338.92,303.8 V307.8 M336.42,303.8 H341.42 M336.42,307.8 H341.42" stroke="#000" stroke-width="1.7" fill="none"/>
<path d="M349.34,296.5 V300.5 M346.84,296.5 H351.84 M346.84,300.5 H351.84" stroke="#000" stroke-width="1.7" fill="none"/>
<path d="M359.76,290.5 V293.5 M357.26,290.5 H362.26 M357.26,293.5 H362.26" stroke="#000" stroke-width="1.7" fill="none"/>
<path d="M370.18,284.4 V286.4 M367.68,284.4 H372.68 M367.68,286.4 H372.68" stroke="#000" stroke-width="1.7" fill="none"/>
<path d="M391.02,271.3 V273.3 M388.52,271.3 H393.52 M388.52,273.3 H393.52" stroke="#000" stroke-width="1.7" fill="none"/>
<path d="M401.44,265.4 V267.4 M398.94,265.4 H403.94 M398.94,267.4 H403.94" stroke="#000" stroke-width="1.7" fill="none"/>
<path d="M411.86,260.1 V262.1 M409.36,260.1 H414.36 M409.36,262.1 H414.36" stroke="#000" stroke-width="1.7" fill="none"/>
<path d="M422.28,255.9 V257.9 M419.78,255.9 H424.78 M419.78,257.9 H424.78" stroke="#000" stroke-width="1.7" fill="none"/>
<path d="M432.7,251.3 V253.3 M430.2,251.3 H435.2 M430.2,253.3 H435.2" stroke="#000" stroke-width="1.7" fill="none"/>
<path d="M443.12,247.1 V249.1 M440.62,247.1 H445.62 M440.62,249.1 H445.62" stroke="#000" stroke-width="1.7" fill="none"/>
<path d="M453.54,243.9 V245.9 M451.04,243.9 H456.04 M451.04,245.9 H456.04" stroke="#000" stroke-width="1.7" fill="none"/>
<path d="M463.96,240.7 V242.7 M461.46,240.7 H466.46 M461.46,242.7 H466.46" stroke="#000" stroke-width="1.7" fill="none"/>
<path d="M474.38,238.5 V240.5 M471.88,238.5 H476.88 M471.88,240.5 H476.88" stroke="#000" stroke-width="1.7" fill="none"/>
<path d="M484.8,237.2 V239.2 M482.3,237.2 H487.3 M482.3,239.2 H487.3" stroke="#000" stroke-width="1.7" fill="none"/>
<path d="M276.4,358.4 L286.82,346.4 L297.24,337.1 L307.66,328.3 L318.08,320.4 L328.5,312.7 L338.92,305.8 L349.34,298.5 L359.76,292 L370.18,285.4 L380.6,278.2 L391.02,272.3 L401.44,266.4 L411.86,261.1 L422.28,256.9 L432.7,252.3 L443.12,248.1 L453.54,244.9 L463.96,241.7 L474.38,239.5 L484.8,238.2" fill="none" stroke="#000" stroke-width="1.3" stroke-opacity="1" stroke-linejoin="round"/>
<path d="M276.4,318.3 V331.3 M273.9,318.3 H278.9 M273.9,331.3 H278.9" stroke="#000" stroke-width="1.7" fill="none"/>
<path d="M286.82,311.9 V323.5 M284.32,311.9 H289.32 M284.32,323.5 H289.32" stroke="#000" stroke-width="1.7" fill="none"/>
<path d="M297.24,307.4 V317.4 M294.74,307.4 H299.74 M294.74,317.4 H299.74" stroke="#000" stroke-width="1.7" fill="none"/>
<path d="M307.66,303 V311 M305.16,303 H310.16 M305.16,311 H310.16" stroke="#000" stroke-width="1.7" fill="none"/>
<path d="M318.08,299.8 V305.8 M315.58,299.8 H320.58 M315.58,305.8 H320.58" stroke="#000" stroke-width="1.7" fill="none"/>
<path d="M328.5,295.9 V300.9 M326,295.9 H331 M326,300.9 H331" stroke="#000" stroke-width="1.7" fill="none"/>
<path d="M338.92,290.9 V294.9 M336.42,290.9 H341.42 M336.42,294.9 H341.42" stroke="#000" stroke-width="1.7" fill="none"/>
<path d="M349.34,287.1 V290.1 M346.84,287.1 H351.84 M346.84,290.1 H351.84" stroke="#000" stroke-width="1.7" fill="none"/>
<path d="M359.76,283.4 V285.4 M357.26,283.4 H362.26 M357.26,285.4 H362.26" stroke="#000" stroke-width="1.7" fill="none"/>
<path d="M370.18,279.8 V281.8 M367.68,279.8 H372.68 M367.68,281.8 H372.68" stroke="#000" stroke-width="1.7" fill="none"/>
<path d="M391.02,276 V278 M388.52,276 H393.52 M388.52,278 H393.52" stroke="#000" stroke-width="1.7" fill="none"/>
<path d="M401.44,274 V276 M398.94,274 H403.94 M398.94,276 H403.94" stroke="#000" stroke-width="1.7" fill="none"/>
<path d="M411.86,272.4 V274.4 M409.36,272.4 H414.36 M409.36,274.4 H414.36" stroke="#000" stroke-width="1.7" fill="none"/>
<path d="M422.28,271 V273 M419.78,271 H424.78 M419.78,273 H424.78" stroke="#000" stroke-width="1.7" fill="none"/>
<path d="M432.7,270.4 V272.4 M430.2,270.4 H435.2 M430.2,272.4 H435.2" stroke="#000" stroke-width="1.7" fill="none"/>
<path d="M443.12,269.9 V271.9 M440.62,269.9 H445.62 M440.62,271.9 H445.62" stroke="#000" stroke-width="1.7" fill="none"/>
<path d="M453.54,269.4 V271.4 M451.04,269.4 H456.04 M451.04,271.4 H456.04" stroke="#000" stroke-width="1.7" fill="none"/>
<path d="M463.96,269.1 V271.1 M461.46,269.1 H466.46 M461.46,271.1 H466.46" stroke="#000" stroke-width="1.7" fill="none"/>
<path d="M474.38,268.9 V270.9 M471.88,268.9 H476.88 M471.88,270.9 H476.88" stroke="#000" stroke-width="1.7" fill="none"/>
<path d="M484.8,268.7 V270.7 M482.3,268.7 H487.3 M482.3,270.7 H487.3" stroke="#000" stroke-width="1.7" fill="none"/>
<path d="M276.4,324.8 L286.82,317.7 L297.24,312.4 L307.66,307 L318.08,302.8 L328.5,298.4 L338.92,292.9 L349.34,288.6 L359.76,284.4 L370.18,280.8 L380.6,277.9 L391.02,277 L401.44,275 L411.86,273.4 L422.28,272 L432.7,271.4 L443.12,270.9 L453.54,270.4 L463.96,270.1 L474.38,269.9 L484.8,269.7" fill="none" stroke="#000" stroke-width="1.3" stroke-opacity="1" stroke-linejoin="round"/>
<path d="M276.4,302.6 V310.7 M273.9,302.6 H278.9 M273.9,310.7 H278.9" stroke="#000" stroke-width="1.7" fill="none"/>
<path d="M286.82,301.1 V308 M284.32,301.1 H289.32 M284.32,308 H289.32" stroke="#000" stroke-width="1.7" fill="none"/>
<path d="M297.24,299.3 V306 M294.74,299.3 H299.74 M294.74,306 H299.74" stroke="#000" stroke-width="1.7" fill="none"/>
<path d="M307.66,297.5 V304 M305.16,297.5 H310.16 M305.16,304 H310.16" stroke="#000" stroke-width="1.7" fill="none"/>
<path d="M318.08,295.2 V301.3 M315.58,295.2 H320.58 M315.58,301.3 H320.58" stroke="#000" stroke-width="1.7" fill="none"/>
<path d="M328.5,293.3 V299 M326,293.3 H331 M326,299 H331" stroke="#000" stroke-width="1.7" fill="none"/>
<path d="M338.92,290.7 V295.7 M336.42,290.7 H341.42 M336.42,295.7 H341.42" stroke="#000" stroke-width="1.7" fill="none"/>
<path d="M349.34,287.8 V291.8 M346.84,287.8 H351.84 M346.84,291.8 H351.84" stroke="#000" stroke-width="1.7" fill="none"/>
<path d="M359.76,285 V288 M357.26,285 H362.26 M357.26,288 H362.26" stroke="#000" stroke-width="1.7" fill="none"/>
<path d="M370.18,280.2 V282.2 M367.68,280.2 H372.68 M367.68,282.2 H372.68" stroke="#000" stroke-width="1.7" fill="none"/>
<path d="M391.02,271.7 V273.7 M388.52,271.7 H393.52 M388.52,273.7 H393.52" stroke="#000" stroke-width="1.7" fill="none"/>
<path d="M401.44,267 V270.5 M398.94,267 H403.94 M398.94,270.5 H403.94" stroke="#000" stroke-width="1.7" fill="none"/>
<path d="M411.86,261.3 V266.3 M409.36,261.3 H414.36 M409.36,266.3 H414.36" stroke="#000" stroke-width="1.7" fill="none"/>
<path d="M422.28,256.9 V262.1 M419.78,256.9 H424.78 M419.78,262.1 H424.78" stroke="#000" stroke-width="1.7" fill="none"/>
<path d="M432.7,252.7 V258.3 M430.2,252.7 H435.2 M430.2,258.3 H435.2" stroke="#000" stroke-width="1.7" fill="none"/>
<path d="M443.12,249.6 V255.5 M440.62,249.6 H445.62 M440.62,255.5 H445.62" stroke="#000" stroke-width="1.7" fill="none"/>
<path d="M453.54,246.4 V253.4 M451.04,246.4 H456.04 M451.04,253.4 H456.04" stroke="#000" stroke-width="1.7" fill="none"/>
<path d="M463.96,243.3 V251.1 M461.46,243.3 H466.46 M461.46,251.1 H466.46" stroke="#000" stroke-width="1.7" fill="none"/>
<path d="M474.38,241.2 V250.5 M471.88,241.2 H476.88 M471.88,250.5 H476.88" stroke="#000" stroke-width="1.7" fill="none"/>
<path d="M484.8,240.1 V249.8 M482.3,240.1 H487.3 M482.3,249.8 H487.3" stroke="#000" stroke-width="1.7" fill="none"/>
<path d="M276.4,306.1 L286.82,303.6 L297.24,301.8 L307.66,300 L318.08,297.7 L328.5,295.8 L338.92,293.2 L349.34,289.8 L359.76,286.5 L370.18,281.2 L380.6,277.6 L391.02,272.7 L401.44,268.5 L411.86,263.3 L422.28,258.9 L432.7,254.7 L443.12,251.6 L453.54,248.4 L463.96,245.3 L474.38,243.2 L484.8,242.1" fill="none" stroke="#000" stroke-width="1.3" stroke-opacity="1" stroke-linejoin="round"/>
<rect x="273.5" y="355.5" width="5.8" height="5.8" fill="#fff" stroke="#000" stroke-width="1.9"/>
<rect x="283.92" y="343.5" width="5.8" height="5.8" fill="#fff" stroke="#000" stroke-width="1.9"/>
<rect x="294.34" y="334.2" width="5.8" height="5.8" fill="#fff" stroke="#000" stroke-width="1.9"/>
<rect x="304.76" y="325.4" width="5.8" height="5.8" fill="#fff" stroke="#000" stroke-width="1.9"/>
<rect x="315.18" y="317.5" width="5.8" height="5.8" fill="#fff" stroke="#000" stroke-width="1.9"/>
<rect x="325.6" y="309.8" width="5.8" height="5.8" fill="#fff" stroke="#000" stroke-width="1.9"/>
<rect x="336.02" y="302.9" width="5.8" height="5.8" fill="#fff" stroke="#000" stroke-width="1.9"/>
<rect x="346.44" y="295.6" width="5.8" height="5.8" fill="#fff" stroke="#000" stroke-width="1.9"/>
<rect x="356.86" y="289.1" width="5.8" height="5.8" fill="#fff" stroke="#000" stroke-width="1.9"/>
<rect x="367.28" y="282.5" width="5.8" height="5.8" fill="#fff" stroke="#000" stroke-width="1.9"/>
<rect x="377.7" y="275.3" width="5.8" height="5.8" fill="#fff" stroke="#000" stroke-width="1.9"/>
<rect x="388.12" y="269.4" width="5.8" height="5.8" fill="#fff" stroke="#000" stroke-width="1.9"/>
<rect x="398.54" y="263.5" width="5.8" height="5.8" fill="#fff" stroke="#000" stroke-width="1.9"/>
<rect x="408.96" y="258.2" width="5.8" height="5.8" fill="#fff" stroke="#000" stroke-width="1.9"/>
<rect x="419.38" y="254" width="5.8" height="5.8" fill="#fff" stroke="#000" stroke-width="1.9"/>
<rect x="429.8" y="249.4" width="5.8" height="5.8" fill="#fff" stroke="#000" stroke-width="1.9"/>
<rect x="440.22" y="245.2" width="5.8" height="5.8" fill="#fff" stroke="#000" stroke-width="1.9"/>
<rect x="450.64" y="242" width="5.8" height="5.8" fill="#fff" stroke="#000" stroke-width="1.9"/>
<rect x="461.06" y="238.8" width="5.8" height="5.8" fill="#fff" stroke="#000" stroke-width="1.9"/>
<rect x="471.48" y="236.6" width="5.8" height="5.8" fill="#fff" stroke="#000" stroke-width="1.9"/>
<rect x="481.9" y="235.3" width="5.8" height="5.8" fill="#fff" stroke="#000" stroke-width="1.9"/>
<circle cx="276.4" cy="324.8" r="3.55" fill="#fff" stroke="#000" stroke-width="1.9"/>
<circle cx="286.82" cy="317.7" r="3.55" fill="#fff" stroke="#000" stroke-width="1.9"/>
<circle cx="297.24" cy="312.4" r="3.55" fill="#fff" stroke="#000" stroke-width="1.9"/>
<circle cx="307.66" cy="307" r="3.55" fill="#fff" stroke="#000" stroke-width="1.9"/>
<circle cx="318.08" cy="302.8" r="3.55" fill="#fff" stroke="#000" stroke-width="1.9"/>
<circle cx="328.5" cy="298.4" r="3.55" fill="#fff" stroke="#000" stroke-width="1.9"/>
<circle cx="338.92" cy="292.9" r="3.55" fill="#fff" stroke="#000" stroke-width="1.9"/>
<circle cx="349.34" cy="288.6" r="3.55" fill="#fff" stroke="#000" stroke-width="1.9"/>
<circle cx="359.76" cy="284.4" r="3.55" fill="#fff" stroke="#000" stroke-width="1.9"/>
<circle cx="370.18" cy="280.8" r="3.55" fill="#fff" stroke="#000" stroke-width="1.9"/>
<circle cx="380.6" cy="277.9" r="3.55" fill="#fff" stroke="#000" stroke-width="1.9"/>
<circle cx="391.02" cy="277" r="3.55" fill="#fff" stroke="#000" stroke-width="1.9"/>
<circle cx="401.44" cy="275" r="3.55" fill="#fff" stroke="#000" stroke-width="1.9"/>
<circle cx="411.86" cy="273.4" r="3.55" fill="#fff" stroke="#000" stroke-width="1.9"/>
<circle cx="422.28" cy="272" r="3.55" fill="#fff" stroke="#000" stroke-width="1.9"/>
<circle cx="432.7" cy="271.4" r="3.55" fill="#fff" stroke="#000" stroke-width="1.9"/>
<circle cx="443.12" cy="270.9" r="3.55" fill="#fff" stroke="#000" stroke-width="1.9"/>
<circle cx="453.54" cy="270.4" r="3.55" fill="#fff" stroke="#000" stroke-width="1.9"/>
<circle cx="463.96" cy="270.1" r="3.55" fill="#fff" stroke="#000" stroke-width="1.9"/>
<circle cx="474.38" cy="269.9" r="3.55" fill="#fff" stroke="#000" stroke-width="1.9"/>
<circle cx="484.8" cy="269.7" r="3.55" fill="#fff" stroke="#000" stroke-width="1.9"/>
<circle cx="380.6" cy="278.6" r="4.6" fill="#000"/>
<path d="M276.4,302.7 L280.3,308.9 L272.5,308.9 Z" fill="#fff" stroke="#000" stroke-width="1.6" stroke-linejoin="round"/>
<path d="M286.82,300.2 L290.72,306.4 L282.92,306.4 Z" fill="#fff" stroke="#000" stroke-width="1.6" stroke-linejoin="round"/>
<path d="M297.24,298.4 L301.14,304.6 L293.34,304.6 Z" fill="#fff" stroke="#000" stroke-width="1.6" stroke-linejoin="round"/>
<path d="M307.66,296.6 L311.56,302.8 L303.76,302.8 Z" fill="#fff" stroke="#000" stroke-width="1.6" stroke-linejoin="round"/>
<path d="M318.08,294.3 L321.98,300.5 L314.18,300.5 Z" fill="#fff" stroke="#000" stroke-width="1.6" stroke-linejoin="round"/>
<path d="M328.5,292.4 L332.4,298.6 L324.6,298.6 Z" fill="#fff" stroke="#000" stroke-width="1.6" stroke-linejoin="round"/>
<path d="M338.92,289.8 L342.82,296 L335.02,296 Z" fill="#fff" stroke="#000" stroke-width="1.6" stroke-linejoin="round"/>
<path d="M349.34,286.4 L353.24,292.6 L345.44,292.6 Z" fill="#fff" stroke="#000" stroke-width="1.6" stroke-linejoin="round"/>
<path d="M359.76,283.1 L363.66,289.3 L355.86,289.3 Z" fill="#fff" stroke="#000" stroke-width="1.6" stroke-linejoin="round"/>
<path d="M370.18,277.8 L374.08,284 L366.28,284 Z" fill="#fff" stroke="#000" stroke-width="1.6" stroke-linejoin="round"/>
<path d="M380.6,274.2 L384.5,280.4 L376.7,280.4 Z" fill="#fff" stroke="#000" stroke-width="1.6" stroke-linejoin="round"/>
<path d="M391.02,269.3 L394.92,275.5 L387.12,275.5 Z" fill="#fff" stroke="#000" stroke-width="1.6" stroke-linejoin="round"/>
<path d="M401.44,265.1 L405.34,271.3 L397.54,271.3 Z" fill="#fff" stroke="#000" stroke-width="1.6" stroke-linejoin="round"/>
<path d="M411.86,259.9 L415.76,266.1 L407.96,266.1 Z" fill="#fff" stroke="#000" stroke-width="1.6" stroke-linejoin="round"/>
<path d="M422.28,255.5 L426.18,261.7 L418.38,261.7 Z" fill="#fff" stroke="#000" stroke-width="1.6" stroke-linejoin="round"/>
<path d="M432.7,251.3 L436.6,257.5 L428.8,257.5 Z" fill="#fff" stroke="#000" stroke-width="1.6" stroke-linejoin="round"/>
<path d="M443.12,248.2 L447.02,254.4 L439.22,254.4 Z" fill="#fff" stroke="#000" stroke-width="1.6" stroke-linejoin="round"/>
<path d="M453.54,245 L457.44,251.2 L449.64,251.2 Z" fill="#fff" stroke="#000" stroke-width="1.6" stroke-linejoin="round"/>
<path d="M463.96,241.9 L467.86,248.1 L460.06,248.1 Z" fill="#fff" stroke="#000" stroke-width="1.6" stroke-linejoin="round"/>
<path d="M474.38,239.8 L478.28,246 L470.48,246 Z" fill="#fff" stroke="#000" stroke-width="1.6" stroke-linejoin="round"/>
<path d="M484.8,238.7 L488.7,244.9 L480.9,244.9 Z" fill="#fff" stroke="#000" stroke-width="1.6" stroke-linejoin="round"/>
</svg>
</body></html>
